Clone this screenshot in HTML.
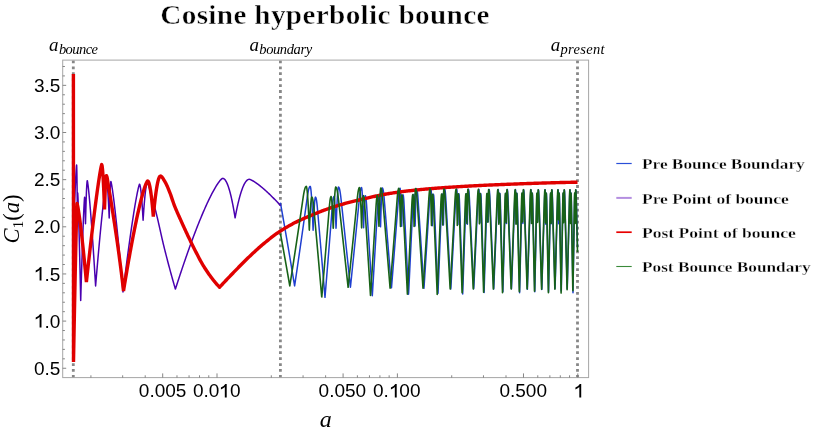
<!DOCTYPE html>
<html><head><meta charset="utf-8"><title>Cosine hyperbolic bounce</title>
<style>
html,body{margin:0;padding:0;background:#fff;}
body{width:817px;height:436px;overflow:hidden;position:relative;font-family:"Liberation Sans",sans-serif;}
svg{position:absolute;left:0;top:0;}
.t{position:absolute;white-space:nowrap;color:#000;line-height:1;filter:grayscale(1);}
.tick{font-family:"Liberation Sans",sans-serif;font-size:19px;}
.ser{font-family:"Liberation Serif",serif;}
</style></head><body>
<svg width="817" height="436" viewBox="0 0 817 436">
<rect x="0" y="0" width="817" height="436" fill="#fff"/>
<g stroke="#878787" stroke-width="2.8" stroke-dasharray="2.8 3.135" fill="none">
<path d="M73.3,377.8 V60.1"/><path d="M280.4,377.8 V60.1"/><path d="M577.5,377.8 V60.1"/>
</g>
<g fill="none" stroke-linejoin="round" stroke-linecap="butt">
<path d="M280.40,202.69 L280.60,203.81 L280.80,204.93 L281.00,206.05 L281.20,207.17 L281.40,208.30 L281.60,209.43 L281.80,210.56 L282.00,211.69 L282.20,212.82 L282.40,213.95 L282.60,215.08 L282.80,216.22 L283.00,217.36 L283.20,218.50 L283.40,219.64 L283.60,220.78 L283.80,221.92 L284.00,223.06 L284.20,224.21 L284.40,225.36 L284.60,226.51 L284.80,227.66 L285.00,228.81 L285.20,229.96 L285.40,231.12 L285.60,232.27 L285.80,233.43 L286.00,234.59 L286.20,235.75 L286.40,236.91 L286.60,238.08 L286.80,239.24 L287.00,240.41 L287.20,241.58 L287.40,242.75 L287.60,243.92 L287.80,245.09 L288.00,246.27 L288.20,247.44 L288.40,248.62 L288.60,249.80 L288.80,250.98 L289.00,252.16 L289.20,253.34 L289.30,253.93 L289.40,254.53 L289.50,255.12 L289.60,255.71 L289.70,256.31 L289.80,256.90 L289.90,257.50 L290.00,258.09 L290.10,258.69 L290.20,259.28 L290.30,259.88 L290.40,260.47 L290.50,261.07 L290.60,261.67 L290.70,262.26 L290.80,262.86 L290.90,263.46 L291.00,264.06 L291.10,264.66 L291.20,265.26 L291.30,265.86 L291.40,266.46 L291.50,267.06 L291.60,267.66 L291.70,268.26 L291.80,268.86 L291.90,269.46 L292.00,270.07 L292.10,270.67 L292.20,271.27 L292.30,271.88 L292.40,272.48 L292.50,273.09 L292.60,273.69 L292.70,274.30 L292.80,274.90 L292.90,275.51 L293.00,276.11 L293.10,276.72 L293.20,277.33 L293.30,277.93 L293.40,278.54 L293.50,279.15 L293.60,279.76 L293.70,280.37 L293.80,280.98 L293.90,281.59 L294.00,282.20 L294.10,282.81 L294.20,283.42 L294.30,284.03 L294.40,284.64 L294.50,285.26 L294.60,285.87 L294.80,284.65 L294.90,283.97 L295.00,283.30 L295.10,282.62 L295.20,281.95 L295.30,281.27 L295.40,280.60 L295.50,279.92 L295.60,279.24 L295.70,278.57 L295.80,277.89 L295.90,277.21 L296.00,276.53 L296.10,275.85 L296.20,275.17 L296.30,274.49 L296.40,273.81 L296.50,273.13 L296.60,272.45 L296.70,271.77 L296.80,271.09 L296.90,270.40 L297.00,269.72 L297.10,269.04 L297.20,268.35 L297.30,267.67 L297.40,266.98 L297.50,266.30 L297.60,265.61 L297.70,264.93 L297.80,264.24 L297.90,263.55 L298.00,262.87 L298.10,262.18 L298.20,261.49 L298.30,260.80 L298.40,260.11 L298.50,259.42 L298.60,258.73 L298.70,258.04 L298.80,257.35 L298.90,256.66 L299.00,255.97 L299.10,255.27 L299.20,254.58 L299.30,253.89 L299.40,253.19 L299.50,252.50 L299.60,251.80 L299.70,251.11 L299.80,250.41 L299.90,249.72 L300.00,249.02 L300.10,248.32 L300.20,247.63 L300.30,246.93 L300.40,246.23 L300.50,245.53 L300.60,244.83 L300.70,244.13 L300.80,243.43 L300.90,242.73 L301.00,242.03 L301.10,241.33 L301.20,240.63 L301.30,239.92 L301.40,239.22 L301.50,238.52 L301.60,237.81 L301.70,237.11 L301.80,236.41 L301.90,235.70 L302.00,235.00 L302.10,234.29 L302.20,233.58 L302.30,232.88 L302.40,232.17 L302.50,231.46 L302.60,230.75 L302.70,230.04 L302.80,229.33 L302.90,228.62 L303.00,227.91 L303.10,227.20 L303.20,226.49 L303.30,225.78 L303.40,225.07 L303.50,224.36 L303.60,223.64 L303.70,222.93 L303.80,222.22 L303.90,221.50 L304.00,220.79 L304.10,220.07 L304.20,219.36 L304.30,218.64 L304.40,217.92 L304.50,217.21 L304.60,216.49 L304.70,215.77 L304.80,215.05 L304.90,214.33 L305.00,213.61 L305.10,212.89 L305.20,212.17 L305.30,211.45 L305.40,210.73 L305.50,210.01 L305.60,209.29 L305.70,208.56 L305.80,207.84 L305.90,207.12 L306.00,206.39 L306.10,205.67 L306.20,204.94 L306.30,204.22 L306.40,203.49 L306.50,202.77 L306.60,202.04 L306.70,201.31 L306.80,200.58 L306.90,199.86 L307.00,199.13 L307.10,198.40 L307.20,197.67 L307.30,196.94 L307.40,196.24 L307.50,195.56 L307.60,194.91 L307.70,194.28 L307.80,193.67 L308.00,192.53 L308.20,191.49 L308.40,190.54 L308.60,189.68 L308.80,188.93 L309.00,188.27 L309.30,187.47 L309.60,186.89 L310.10,186.42 L310.20,186.41 L310.30,186.46 L310.60,187.49 L310.80,188.78 L310.90,189.59 L311.00,190.50 L311.10,191.51 L311.20,192.63 L311.30,193.83 L311.40,195.14 L311.50,196.53 L311.60,198.02 L311.70,199.60 L311.80,201.27 L311.90,203.02 L312.00,204.87 L312.10,206.80 L312.20,208.81 L312.30,210.92 L312.40,213.10 L312.50,215.37 L312.60,217.73 L312.70,220.16 L312.80,222.68 L312.90,225.28 L313.00,227.96 L313.10,230.20 L313.20,227.73 L313.30,225.35 L313.40,223.05 L313.50,220.83 L313.60,218.70 L313.70,216.67 L313.80,214.71 L313.90,212.85 L314.00,211.09 L314.10,209.41 L314.20,207.83 L314.30,206.34 L314.40,204.96 L314.50,203.67 L314.60,202.49 L314.70,201.41 L314.80,200.43 L314.90,199.57 L315.00,198.83 L315.10,198.20 L315.30,197.33 L315.40,197.12 L315.50,197.08 L315.90,197.64 L316.10,198.26 L316.30,199.12 L316.50,200.22 L316.60,200.86 L316.70,201.55 L316.80,202.31 L316.90,203.12 L317.00,204.00 L317.10,204.93 L317.20,205.93 L317.30,206.98 L317.40,208.09 L317.50,209.24 L317.60,210.39 L317.70,211.54 L317.80,212.69 L317.90,213.85 L318.00,215.00 L318.10,216.15 L318.20,217.31 L318.30,218.46 L318.40,219.62 L318.50,220.78 L318.60,221.93 L318.70,223.09 L318.80,224.25 L318.90,225.41 L319.00,226.57 L319.10,227.73 L319.20,228.89 L319.30,230.06 L319.40,231.22 L319.50,232.38 L319.60,233.55 L319.70,234.71 L319.80,235.88 L319.90,237.05 L320.00,238.21 L320.10,239.38 L320.20,240.55 L320.30,241.72 L320.40,242.89 L320.50,244.06 L320.60,245.24 L320.70,246.41 L320.80,247.58 L320.90,248.76 L321.00,249.93 L321.10,251.11 L321.20,252.29 L321.30,253.46 L321.40,254.64 L321.50,255.82 L321.60,257.00 L321.70,258.18 L321.80,259.36 L321.90,260.54 L322.00,261.73 L322.10,262.91 L322.20,264.09 L322.30,265.28 L322.40,266.47 L322.50,267.65 L322.60,268.84 L322.70,270.03 L322.80,271.22 L322.90,272.41 L323.00,273.60 L323.10,274.79 L323.20,275.98 L323.30,277.17 L323.40,278.36 L323.50,279.56 L323.60,280.75 L323.70,281.95 L323.80,283.15 L323.90,284.34 L324.00,285.54 L324.10,286.74 L324.20,287.94 L324.30,289.14 L324.40,290.34 L324.50,291.54 L324.60,292.74 L324.70,293.95 L324.80,295.15 L324.90,296.36 L325.00,297.33 L325.10,296.12 L325.20,294.91 L325.30,293.69 L325.40,292.48 L325.50,291.26 L325.60,290.05 L325.70,288.83 L325.80,287.61 L325.90,286.39 L326.00,285.17 L326.10,283.95 L326.20,282.73 L326.30,281.51 L326.40,280.29 L326.50,279.07 L326.60,277.84 L326.70,276.62 L326.80,275.39 L326.90,274.17 L327.00,272.94 L327.10,271.71 L327.20,270.48 L327.30,269.25 L327.40,268.02 L327.50,266.79 L327.60,265.56 L327.70,264.33 L327.80,263.09 L327.90,261.86 L328.00,260.62 L328.10,259.39 L328.20,258.15 L328.30,256.92 L328.40,255.68 L328.50,254.44 L328.60,253.20 L328.70,251.96 L328.80,250.72 L328.90,249.48 L329.00,248.23 L329.10,246.99 L329.20,245.74 L329.30,244.50 L329.40,243.25 L329.50,242.01 L329.60,240.76 L329.70,239.51 L329.80,238.26 L329.90,237.01 L330.00,235.76 L330.10,234.51 L330.20,233.26 L330.30,232.01 L330.40,230.75 L330.50,229.50 L330.60,228.24 L330.70,226.99 L330.80,225.73 L330.90,224.47 L331.00,223.21 L331.10,221.95 L331.20,220.69 L331.30,219.43 L331.40,218.17 L331.50,216.91 L331.60,215.64 L331.70,214.38 L331.80,213.12 L331.90,211.85 L332.00,210.58 L332.10,209.32 L332.20,208.05 L332.30,206.80 L332.40,205.62 L332.50,204.52 L332.60,203.48 L332.70,202.52 L332.80,201.63 L332.90,200.81 L333.00,200.06 L333.10,199.39 L333.20,198.78 L333.40,197.79 L333.60,197.09 L333.90,196.58 L334.00,196.57 L334.20,197.14 L334.40,198.42 L334.50,199.29 L334.60,200.31 L334.70,201.47 L334.80,202.76 L334.90,204.19 L335.00,205.75 L335.10,207.44 L335.20,209.26 L335.30,211.20 L335.40,213.27 L335.50,215.45 L335.60,217.76 L335.70,220.18 L335.80,222.72 L335.90,225.38 L336.00,228.15 L336.20,224.92 L336.30,221.99 L336.40,219.16 L336.50,216.43 L336.60,213.82 L336.70,211.31 L336.80,208.91 L336.90,206.62 L337.00,204.44 L337.10,202.38 L337.20,200.43 L337.30,198.60 L337.40,196.89 L337.50,195.31 L337.60,193.84 L337.70,192.51 L337.80,191.30 L337.90,190.23 L338.00,189.30 L338.10,188.51 L338.20,187.88 L338.40,187.12 L338.50,187.04 L339.00,187.55 L339.30,188.29 L339.50,188.97 L339.70,189.80 L339.90,190.77 L340.10,191.89 L340.20,192.51 L340.30,193.16 L340.40,193.85 L340.50,194.58 L340.60,195.35 L340.70,196.15 L340.80,196.99 L340.90,197.87 L341.00,198.78 L341.10,199.69 L341.20,200.61 L341.30,201.52 L341.40,202.43 L341.50,203.35 L341.60,204.26 L341.70,205.18 L341.80,206.10 L341.90,207.01 L342.00,207.93 L342.10,208.85 L342.20,209.77 L342.30,210.69 L342.40,211.61 L342.50,212.53 L342.60,213.45 L342.70,214.37 L342.80,215.29 L342.90,216.22 L343.00,217.14 L343.10,218.06 L343.20,218.99 L343.30,219.91 L343.40,220.84 L343.50,221.77 L343.60,222.69 L343.70,223.62 L343.80,224.55 L343.90,225.48 L344.00,226.41 L344.10,227.34 L344.20,228.27 L344.30,229.20 L344.40,230.13 L344.50,231.06 L344.60,232.00 L344.70,232.93 L344.80,233.87 L344.90,234.80 L345.00,235.74 L345.10,236.67 L345.20,237.61 L345.30,238.55 L345.40,239.48 L345.50,240.42 L345.60,241.36 L345.70,242.30 L345.80,243.24 L345.90,244.18 L346.00,245.13 L346.10,246.07 L346.20,247.01 L346.30,247.95 L346.40,248.90 L346.50,249.84 L346.60,250.79 L346.70,251.73 L346.80,252.68 L346.90,253.63 L347.00,254.57 L347.10,255.52 L347.20,256.47 L347.30,257.42 L347.40,258.37 L347.50,259.32 L347.60,260.27 L347.70,261.22 L347.80,262.18 L347.90,263.13 L348.00,264.08 L348.10,265.04 L348.20,265.99 L348.30,266.95 L348.40,267.91 L348.50,268.86 L348.60,269.82 L348.70,270.78 L348.80,271.74 L348.90,272.70 L349.00,273.66 L349.10,274.62 L349.20,275.58 L349.30,276.54 L349.40,277.50 L349.50,278.46 L349.60,279.43 L349.70,280.39 L349.80,281.36 L349.90,282.32 L350.00,283.29 L350.10,284.26 L350.20,285.22 L350.30,286.19 L350.40,287.16 L350.50,286.53 L350.60,285.57 L350.70,284.60 L350.80,283.64 L350.90,282.67 L351.00,281.70 L351.10,280.73 L351.20,279.76 L351.30,278.80 L351.40,277.83 L351.50,276.85 L351.60,275.88 L351.70,274.91 L351.80,273.94 L351.90,272.97 L352.00,271.99 L352.10,271.02 L352.20,270.04 L352.30,269.07 L352.40,268.09 L352.50,267.11 L352.60,266.14 L352.70,265.16 L352.80,264.18 L352.90,263.20 L353.00,262.22 L353.10,261.24 L353.20,260.26 L353.30,259.28 L353.40,258.29 L353.50,257.31 L353.60,256.33 L353.70,255.34 L353.80,254.36 L353.90,253.37 L354.00,252.38 L354.10,251.40 L354.20,250.41 L354.30,249.42 L354.40,248.43 L354.50,247.44 L354.60,246.45 L354.70,245.46 L354.80,244.47 L354.90,243.48 L355.00,242.48 L355.10,241.49 L355.20,240.50 L355.30,239.50 L355.40,238.51 L355.50,237.51 L355.60,236.51 L355.70,235.52 L355.80,234.52 L355.90,233.52 L356.00,232.52 L356.10,231.52 L356.20,230.52 L356.30,229.52 L356.40,228.52 L356.50,227.51 L356.60,226.51 L356.70,225.51 L356.80,224.50 L356.90,223.50 L357.00,222.49 L357.10,221.49 L357.20,220.48 L357.30,219.47 L357.40,218.46 L357.50,217.45 L357.60,216.44 L357.70,215.43 L357.80,214.42 L357.90,213.41 L358.00,212.40 L358.10,211.38 L358.20,210.37 L358.30,209.36 L358.40,208.34 L358.50,207.33 L358.60,206.31 L358.70,205.29 L358.80,204.28 L358.90,203.26 L359.00,202.24 L359.10,201.22 L359.20,200.20 L359.30,199.18 L359.40,198.16 L359.50,197.18 L359.60,196.25 L359.70,195.37 L359.80,194.53 L359.90,193.74 L360.00,192.99 L360.10,192.30 L360.20,191.65 L360.30,191.05 L360.50,189.98 L360.70,189.11 L360.90,188.43 L361.20,187.76 L361.50,187.53 L361.80,188.71 L361.90,189.54 L362.00,190.57 L362.10,191.78 L362.20,193.17 L362.30,194.73 L362.40,196.46 L362.50,198.36 L362.60,200.42 L362.70,202.63 L362.80,205.01 L362.90,207.53 L363.00,210.21 L363.10,213.04 L363.20,216.02 L363.30,219.14 L363.40,222.41 L363.50,225.82 L363.60,227.69 L363.70,224.39 L363.80,221.25 L363.90,218.26 L364.00,215.45 L364.10,212.79 L364.20,210.31 L364.30,208.00 L364.40,205.87 L364.50,203.92 L364.60,202.16 L364.70,200.58 L364.80,199.21 L364.90,198.04 L365.00,197.09 L365.10,196.36 L365.30,195.71 L365.40,195.77 L365.70,196.61 L365.90,197.72 L366.00,198.44 L366.10,199.28 L366.20,200.22 L366.30,201.27 L366.40,202.44 L366.50,203.71 L366.60,205.10 L366.70,206.60 L366.80,208.18 L366.90,209.75 L367.00,211.33 L367.10,212.91 L367.20,214.49 L367.30,216.07 L367.40,217.65 L367.50,219.23 L367.60,220.81 L367.70,222.39 L367.80,223.98 L367.90,225.56 L368.00,227.15 L368.10,228.74 L368.20,230.33 L368.30,231.92 L368.40,233.51 L368.50,235.10 L368.60,236.69 L368.70,238.29 L368.80,239.88 L368.90,241.48 L369.00,243.07 L369.10,244.67 L369.20,246.27 L369.30,247.87 L369.40,249.47 L369.50,251.07 L369.60,252.68 L369.70,254.28 L369.80,255.89 L369.90,257.49 L370.00,259.10 L370.10,260.71 L370.20,262.32 L370.30,263.93 L370.40,265.54 L370.50,267.15 L370.60,268.76 L370.70,270.38 L370.80,271.99 L370.90,273.61 L371.00,275.23 L371.10,276.84 L371.20,278.46 L371.30,280.08 L371.40,281.70 L371.50,283.33 L371.60,284.95 L371.70,286.58 L371.80,288.20 L371.90,289.83 L372.00,291.45 L372.10,293.08 L372.20,294.71 L372.30,295.75 L372.40,294.11 L372.50,292.47 L372.60,290.83 L372.70,289.19 L372.80,287.55 L372.90,285.91 L373.00,284.26 L373.10,282.62 L373.20,280.97 L373.30,279.33 L373.40,277.68 L373.50,276.03 L373.60,274.38 L373.70,272.73 L373.80,271.08 L373.90,269.43 L374.00,267.77 L374.10,266.12 L374.20,264.46 L374.30,262.80 L374.40,261.15 L374.50,259.49 L374.60,257.83 L374.70,256.16 L374.80,254.50 L374.90,252.84 L375.00,251.17 L375.10,249.51 L375.20,247.84 L375.30,246.17 L375.40,244.51 L375.50,242.84 L375.60,241.16 L375.70,239.49 L375.80,237.82 L375.90,236.15 L376.00,234.47 L376.10,232.79 L376.20,231.12 L376.30,229.44 L376.40,227.76 L376.50,226.08 L376.60,224.40 L376.70,222.72 L376.80,221.03 L376.90,219.35 L377.00,217.66 L377.10,215.97 L377.20,214.29 L377.30,212.60 L377.40,210.91 L377.50,209.22 L377.60,207.52 L377.70,205.84 L377.80,204.27 L377.90,202.82 L378.00,201.50 L378.10,200.31 L378.20,199.25 L378.30,198.31 L378.40,197.50 L378.50,196.82 L378.70,195.85 L378.90,195.40 L379.00,195.39 L379.20,196.38 L379.30,197.32 L379.40,198.53 L379.50,199.98 L379.60,201.68 L379.70,203.61 L379.80,205.77 L379.90,208.15 L380.00,210.74 L380.10,213.55 L380.20,216.57 L380.30,219.79 L380.40,223.22 L380.50,226.85 L380.60,225.14 L380.70,221.43 L380.80,217.89 L380.90,214.53 L381.00,211.34 L381.10,208.34 L381.20,205.52 L381.30,202.88 L381.40,200.44 L381.50,198.19 L381.60,196.15 L381.70,194.30 L381.80,192.67 L381.90,191.26 L382.00,190.07 L382.10,189.12 L382.20,188.44 L382.30,188.03 L382.40,187.96 L382.80,188.59 L383.00,189.29 L383.20,190.24 L383.40,191.45 L383.50,192.15 L383.60,192.92 L383.70,193.75 L383.80,194.64 L383.90,195.60 L384.00,196.63 L384.10,197.72 L384.20,198.88 L384.30,200.08 L384.40,201.28 L384.50,202.49 L384.60,203.69 L384.70,204.90 L384.80,206.11 L384.90,207.32 L385.00,208.52 L385.10,209.73 L385.20,210.94 L385.30,212.15 L385.40,213.37 L385.50,214.58 L385.60,215.79 L385.70,217.01 L385.80,218.22 L385.90,219.44 L386.00,220.65 L386.10,221.87 L386.20,223.09 L386.30,224.31 L386.40,225.53 L386.50,226.75 L386.60,227.97 L386.70,229.19 L386.80,230.41 L386.90,231.63 L387.00,232.86 L387.10,234.08 L387.20,235.31 L387.30,236.54 L387.40,237.76 L387.50,238.99 L387.60,240.22 L387.70,241.45 L387.80,242.68 L387.90,243.91 L388.00,245.14 L388.10,246.38 L388.20,247.61 L388.30,248.84 L388.40,250.08 L388.50,251.32 L388.60,252.55 L388.70,253.79 L388.80,255.03 L388.90,256.27 L389.00,257.51 L389.10,258.75 L389.20,259.99 L389.30,261.23 L389.40,262.48 L389.50,263.72 L389.60,264.97 L389.70,266.21 L389.80,267.46 L389.90,268.70 L390.00,269.95 L390.10,271.20 L390.20,272.45 L390.30,273.70 L390.40,274.95 L390.50,276.20 L390.60,277.46 L390.70,278.71 L390.80,279.97 L390.90,281.22 L391.00,282.48 L391.10,283.73 L391.20,284.99 L391.30,286.25 L391.40,287.51 L391.50,287.77 L391.60,286.51 L391.70,285.25 L391.80,283.99 L391.90,282.74 L392.00,281.48 L392.10,280.22 L392.20,278.95 L392.30,277.69 L392.40,276.43 L392.50,275.16 L392.60,273.90 L392.70,272.63 L392.80,271.37 L392.90,270.10 L393.00,268.83 L393.10,267.56 L393.20,266.29 L393.30,265.02 L393.40,263.75 L393.50,262.48 L393.60,261.21 L393.70,259.93 L393.80,258.66 L393.90,257.38 L394.00,256.11 L394.10,254.83 L394.20,253.55 L394.30,252.27 L394.40,250.99 L394.50,249.71 L394.60,248.43 L394.70,247.15 L394.80,245.87 L394.90,244.58 L395.00,243.30 L395.10,242.01 L395.20,240.73 L395.30,239.44 L395.40,238.15 L395.50,236.86 L395.60,235.57 L395.70,234.28 L395.80,232.99 L395.90,231.70 L396.00,230.41 L396.10,229.11 L396.20,227.82 L396.30,226.52 L396.40,225.23 L396.50,223.93 L396.60,222.63 L396.70,221.33 L396.80,220.03 L396.90,218.73 L397.00,217.43 L397.10,216.13 L397.20,214.83 L397.30,213.52 L397.40,212.22 L397.50,210.91 L397.60,209.61 L397.70,208.30 L397.80,206.99 L397.90,205.68 L398.00,204.37 L398.10,203.06 L398.20,201.75 L398.30,200.44 L398.40,199.13 L398.50,197.87 L398.60,196.68 L398.70,195.58 L398.80,194.55 L398.90,193.60 L399.00,192.73 L399.10,191.93 L399.20,191.22 L399.30,190.58 L399.50,189.53 L399.70,188.81 L400.00,188.31 L400.10,188.33 L400.30,189.52 L400.40,190.60 L400.50,191.98 L400.60,193.64 L400.70,195.56 L400.80,197.75 L400.90,200.18 L401.00,202.87 L401.10,205.79 L401.20,208.95 L401.30,212.35 L401.40,215.97 L401.50,219.83 L401.60,223.90 L401.70,226.25 L401.80,222.12 L401.90,218.25 L402.00,214.64 L402.10,211.30 L402.20,208.24 L402.30,205.45 L402.40,202.96 L402.50,200.76 L402.60,198.88 L402.70,197.32 L402.80,196.10 L402.90,195.25 L403.00,194.82 L403.10,194.85 L403.30,195.47 L403.50,196.80 L403.60,197.73 L403.70,198.84 L403.80,200.13 L403.90,201.61 L404.00,203.26 L404.10,205.09 L404.20,207.07 L404.30,209.07 L404.40,211.07 L404.50,213.08 L404.60,215.08 L404.70,217.09 L404.80,219.09 L404.90,221.10 L405.00,223.11 L405.10,225.12 L405.20,227.13 L405.30,229.15 L405.40,231.16 L405.50,233.18 L405.60,235.20 L405.70,237.21 L405.80,239.23 L405.90,241.26 L406.00,243.28 L406.10,245.30 L406.20,247.33 L406.30,249.35 L406.40,251.38 L406.50,253.41 L406.60,255.44 L406.70,257.47 L406.80,259.51 L406.90,261.54 L407.00,263.57 L407.10,265.61 L407.20,267.65 L407.30,269.69 L407.40,271.73 L407.50,273.77 L407.60,275.81 L407.70,277.86 L407.80,279.91 L407.90,281.95 L408.00,284.00 L408.10,286.05 L408.20,288.10 L408.30,290.15 L408.40,292.21 L408.50,294.26 L408.70,291.83 L408.80,289.77 L408.90,287.70 L409.00,285.63 L409.10,283.57 L409.20,281.50 L409.30,279.43 L409.40,277.36 L409.50,275.28 L409.60,273.21 L409.70,271.13 L409.80,269.06 L409.90,266.98 L410.00,264.90 L410.10,262.82 L410.20,260.74 L410.30,258.65 L410.40,256.57 L410.50,254.48 L410.60,252.40 L410.70,250.31 L410.80,248.22 L410.90,246.13 L411.00,244.03 L411.10,241.94 L411.20,239.84 L411.30,237.75 L411.40,235.65 L411.50,233.55 L411.60,231.45 L411.70,229.35 L411.80,227.24 L411.90,225.14 L412.00,223.03 L412.10,220.93 L412.20,218.82 L412.30,216.71 L412.40,214.60 L412.50,212.48 L412.60,210.37 L412.70,208.26 L412.80,206.14 L412.90,204.09 L413.00,202.23 L413.10,200.58 L413.20,199.12 L413.30,197.87 L413.40,196.81 L413.50,195.96 L413.60,195.31 L413.80,194.62 L413.90,194.61 L414.10,196.10 L414.20,197.50 L414.30,199.29 L414.40,201.46 L414.50,203.98 L414.60,206.85 L414.70,210.05 L414.80,213.58 L414.90,217.43 L415.00,221.59 L415.10,226.06 L415.20,222.96 L415.30,218.63 L415.40,214.56 L415.50,210.75 L415.60,207.20 L415.70,203.94 L415.80,200.95 L415.90,198.26 L416.00,195.86 L416.10,193.77 L416.20,191.99 L416.30,190.56 L416.40,189.48 L416.50,188.79 L416.60,188.58 L417.00,189.44 L417.20,190.46 L417.30,191.12 L417.40,191.88 L417.50,192.74 L417.60,193.70 L417.70,194.76 L417.80,195.92 L417.90,197.18 L418.00,198.54 L418.10,200.00 L418.20,201.50 L418.30,202.99 L418.40,204.49 L418.50,205.99 L418.60,207.49 L418.70,208.98 L418.80,210.49 L418.90,211.99 L419.00,213.49 L419.10,214.99 L419.20,216.50 L419.30,218.00 L419.40,219.51 L419.50,221.02 L419.60,222.52 L419.70,224.03 L419.80,225.54 L419.90,227.05 L420.00,228.57 L420.10,230.08 L420.20,231.59 L420.30,233.11 L420.40,234.62 L420.50,236.14 L420.60,237.66 L420.70,239.18 L420.80,240.70 L420.90,242.22 L421.00,243.74 L421.10,245.26 L421.20,246.79 L421.30,248.31 L421.40,249.84 L421.50,251.37 L421.60,252.89 L421.70,254.42 L421.80,255.95 L421.90,257.48 L422.00,259.01 L422.10,260.55 L422.20,262.08 L422.30,263.61 L422.40,265.15 L422.50,266.69 L422.60,268.22 L422.70,269.76 L422.80,271.30 L422.90,272.84 L423.00,274.38 L423.10,275.93 L423.20,277.47 L423.30,279.02 L423.40,280.56 L423.50,282.11 L423.60,283.65 L423.70,285.20 L423.80,286.75 L423.90,288.30 L424.10,286.39 L424.20,284.84 L424.30,283.29 L424.40,281.74 L424.50,280.19 L424.60,278.63 L424.70,277.08 L424.80,275.52 L424.90,273.96 L425.00,272.41 L425.10,270.85 L425.20,269.29 L425.30,267.73 L425.40,266.16 L425.50,264.60 L425.60,263.04 L425.70,261.47 L425.80,259.91 L425.90,258.34 L426.00,256.77 L426.10,255.20 L426.20,253.63 L426.30,252.06 L426.40,250.49 L426.50,248.92 L426.60,247.34 L426.70,245.77 L426.80,244.19 L426.90,242.61 L427.00,241.03 L427.10,239.45 L427.20,237.87 L427.30,236.29 L427.40,234.71 L427.50,233.13 L427.60,231.54 L427.70,229.96 L427.80,228.37 L427.90,226.78 L428.00,225.20 L428.10,223.61 L428.20,222.02 L428.30,220.42 L428.40,218.83 L428.50,217.24 L428.60,215.64 L428.70,214.05 L428.80,212.45 L428.90,210.85 L429.00,209.26 L429.10,207.66 L429.20,206.05 L429.30,204.45 L429.40,202.85 L429.50,201.25 L429.60,199.64 L429.70,198.11 L429.80,196.70 L429.90,195.40 L430.00,194.22 L430.10,193.16 L430.20,192.20 L430.30,191.37 L430.40,190.65 L430.50,190.05 L430.70,189.20 L430.90,188.82 L431.00,188.86 L431.20,190.48 L431.30,191.97 L431.40,193.87 L431.50,196.15 L431.60,198.80 L431.70,201.80 L431.80,205.16 L431.90,208.85 L432.00,212.88 L432.10,217.23 L432.20,221.90 L432.30,225.78 L432.40,220.80 L432.50,216.21 L432.60,212.00 L432.70,208.19 L432.80,204.79 L432.90,201.82 L433.00,199.29 L433.10,197.22 L433.20,195.64 L433.30,194.60 L433.40,194.19 L433.70,195.38 L433.80,196.30 L433.90,197.49 L434.00,198.93 L434.10,200.64 L434.20,202.62 L434.30,204.86 L434.40,207.28 L434.50,209.71 L434.60,212.13 L434.70,214.56 L434.80,216.99 L434.90,219.43 L435.00,221.86 L435.10,224.30 L435.20,226.74 L435.30,229.17 L435.40,231.61 L435.50,234.06 L435.60,236.50 L435.70,238.95 L435.80,241.39 L435.90,243.84 L436.00,246.29 L436.10,248.74 L436.20,251.19 L436.30,253.65 L436.40,256.10 L436.50,258.56 L436.60,261.02 L436.70,263.48 L436.80,265.94 L436.90,268.41 L437.00,270.87 L437.10,273.34 L437.20,275.81 L437.30,278.28 L437.40,280.75 L437.50,283.23 L437.60,285.70 L437.70,288.18 L437.80,290.65 L437.90,293.13 L438.00,293.34 L438.10,290.85 L438.20,288.36 L438.30,285.87 L438.40,283.38 L438.50,280.89 L438.60,278.39 L438.70,275.90 L438.80,273.40 L438.90,270.90 L439.00,268.40 L439.10,265.90 L439.20,263.39 L439.30,260.89 L439.40,258.38 L439.50,255.87 L439.60,253.36 L439.70,250.85 L439.80,248.33 L439.90,245.82 L440.00,243.30 L440.10,240.78 L440.20,238.26 L440.30,235.74 L440.40,233.22 L440.50,230.69 L440.60,228.17 L440.70,225.64 L440.80,223.11 L440.90,220.58 L441.00,218.05 L441.10,215.51 L441.20,212.98 L441.30,210.44 L441.40,207.90 L441.50,205.36 L441.60,202.94 L441.70,200.81 L441.80,198.98 L441.90,197.43 L442.00,196.17 L442.10,195.20 L442.20,194.52 L442.30,194.13 L442.40,194.05 L442.50,194.67 L442.60,195.95 L442.70,197.82 L442.80,200.23 L442.90,203.16 L443.00,206.58 L443.10,210.48 L443.20,214.84 L443.30,219.65 L443.40,224.91 L443.50,221.88 L443.60,216.91 L443.70,212.30 L443.80,208.06 L443.90,204.20 L444.00,200.73 L444.10,197.67 L444.20,195.02 L444.30,192.81 L444.40,191.06 L444.50,189.80 L444.60,189.09 L444.70,189.01 L445.00,189.88 L445.20,191.16 L445.30,192.02 L445.40,193.01 L445.50,194.16 L445.60,195.44 L445.70,196.87 L445.80,198.44 L445.90,200.15 L446.00,201.94 L446.10,203.72 L446.20,205.51 L446.30,207.30 L446.40,209.09 L446.50,210.88 L446.60,212.67 L446.70,214.47 L446.80,216.26 L446.90,218.06 L447.00,219.86 L447.10,221.66 L447.20,223.46 L447.30,225.26 L447.40,227.06 L447.50,228.86 L447.60,230.67 L447.70,232.47 L447.80,234.28 L447.90,236.09 L448.00,237.89 L448.10,239.70 L448.20,241.52 L448.30,243.33 L448.40,245.14 L448.50,246.96 L448.60,248.77 L448.70,250.59 L448.80,252.41 L448.90,254.23 L449.00,256.05 L449.10,257.87 L449.20,259.69 L449.30,261.52 L449.40,263.34 L449.50,265.17 L449.60,267.00 L449.70,268.82 L449.80,270.65 L449.90,272.49 L450.00,274.32 L450.10,276.15 L450.20,277.99 L450.30,279.82 L450.40,281.66 L450.50,283.50 L450.60,285.34 L450.70,287.18 L450.80,289.02 L450.90,287.78 L451.00,285.94 L451.10,284.09 L451.20,282.25 L451.30,280.40 L451.40,278.56 L451.50,276.71 L451.60,274.86 L451.70,273.01 L451.80,271.16 L451.90,269.31 L452.00,267.46 L452.10,265.60 L452.20,263.75 L452.30,261.89 L452.40,260.03 L452.50,258.17 L452.60,256.31 L452.70,254.45 L452.80,252.59 L452.90,250.72 L453.00,248.86 L453.10,246.99 L453.20,245.13 L453.30,243.26 L453.40,241.39 L453.50,239.52 L453.60,237.64 L453.70,235.77 L453.80,233.89 L453.90,232.02 L454.00,230.14 L454.10,228.26 L454.20,226.38 L454.30,224.50 L454.40,222.62 L454.50,220.74 L454.60,218.85 L454.70,216.97 L454.80,215.08 L454.90,213.19 L455.00,211.30 L455.10,209.41 L455.20,207.52 L455.30,205.63 L455.40,203.73 L455.50,201.84 L455.60,199.94 L455.70,198.15 L455.80,196.53 L455.90,195.06 L456.00,193.75 L456.10,192.61 L456.20,191.63 L456.30,190.81 L456.40,190.15 L456.60,189.33 L456.70,189.16 L456.80,189.26 L456.90,190.08 L457.00,191.53 L457.10,193.55 L457.20,196.09 L457.30,199.13 L457.40,202.66 L457.50,206.65 L457.60,211.10 L457.70,216.00 L457.80,221.33 L457.90,224.40 L458.00,218.68 L458.10,213.49 L458.20,208.84 L458.30,204.75 L458.40,201.25 L458.50,198.35 L458.60,196.10 L458.70,194.55 L458.80,193.81 L458.90,193.90 L459.10,195.20 L459.20,196.40 L459.30,197.96 L459.40,199.89 L459.50,202.18 L459.60,204.83 L459.70,207.68 L459.80,210.54 L459.90,213.39 L460.00,216.25 L460.10,219.10 L460.20,221.96 L460.30,224.83 L460.40,227.69 L460.50,230.55 L460.60,233.42 L460.70,236.29 L460.80,239.16 L460.90,242.03 L461.00,244.91 L461.10,247.78 L461.20,250.66 L461.30,253.54 L461.40,256.42 L461.50,259.30 L461.60,262.19 L461.70,265.08 L461.80,267.97 L461.90,270.86 L462.00,273.75 L462.10,276.64 L462.20,279.54 L462.30,282.44 L462.40,285.34 L462.50,288.24 L462.60,291.14 L462.70,294.05 L462.80,291.15 L462.90,288.24 L463.00,285.32 L463.10,282.41 L463.20,279.49 L463.30,276.57 L463.40,273.65 L463.50,270.73 L463.60,267.80 L463.70,264.87 L463.80,261.94 L463.90,259.01 L464.00,256.08 L464.10,253.15 L464.20,250.21 L464.30,247.27 L464.40,244.33 L464.50,241.39 L464.60,238.45 L464.70,235.50 L464.80,232.55 L464.90,229.60 L465.00,226.65 L465.10,223.70 L465.20,220.74 L465.30,217.79 L465.40,214.83 L465.50,211.87 L465.60,208.90 L465.70,205.94 L465.80,203.05 L465.90,200.53 L466.00,198.40 L466.10,196.66 L466.20,195.32 L466.30,194.38 L466.40,193.83 L466.50,193.69 L466.60,194.44 L466.70,196.08 L466.80,198.49 L466.90,201.62 L467.00,205.43 L467.10,209.89 L467.20,214.98 L467.30,220.68 L467.40,224.26 L467.50,218.39 L467.60,213.01 L467.70,208.12 L467.80,203.74 L467.90,199.87 L468.00,196.55 L468.10,193.79 L468.20,191.63 L468.30,190.11 L468.40,189.33 L468.50,189.31 L468.70,189.96 L468.80,190.58 L468.90,191.38 L469.00,192.38 L469.10,193.57 L469.20,194.95 L469.30,196.53 L469.40,198.30 L469.50,200.26 L469.60,202.34 L469.70,204.42 L469.80,206.50 L469.90,208.58 L470.00,210.66 L470.10,212.74 L470.20,214.83 L470.30,216.92 L470.40,219.00 L470.50,221.09 L470.60,223.18 L470.70,225.28 L470.80,227.37 L470.90,229.46 L471.00,231.56 L471.10,233.66 L471.20,235.75 L471.30,237.85 L471.40,239.96 L471.50,242.06 L471.60,244.16 L471.70,246.27 L471.80,248.37 L471.90,250.48 L472.00,252.59 L472.10,254.70 L472.20,256.81 L472.30,258.93 L472.40,261.04 L472.50,263.16 L472.60,265.27 L472.70,267.39 L472.80,269.51 L472.90,271.63 L473.00,273.76 L473.10,275.88 L473.20,278.01 L473.30,280.13 L473.40,282.26 L473.50,284.39 L473.60,286.52 L473.70,288.66 L473.90,286.28 L474.00,284.15 L474.10,282.01 L474.20,279.87 L474.30,277.74 L474.40,275.60 L474.50,273.45 L474.60,271.31 L474.70,269.17 L474.80,267.02 L474.90,264.88 L475.00,262.73 L475.10,260.58 L475.20,258.43 L475.30,256.27 L475.40,254.12 L475.50,251.97 L475.60,249.81 L475.70,247.65 L475.80,245.49 L475.90,243.33 L476.00,241.17 L476.10,239.01 L476.20,236.84 L476.30,234.68 L476.40,232.51 L476.50,230.34 L476.60,228.17 L476.70,226.00 L476.80,223.82 L476.90,221.65 L477.00,219.47 L477.10,217.30 L477.20,215.12 L477.30,212.94 L477.40,210.76 L477.50,208.57 L477.60,206.39 L477.70,204.20 L477.80,202.02 L477.90,199.84 L478.00,197.82 L478.10,196.02 L478.20,194.43 L478.30,193.06 L478.40,191.90 L478.50,190.96 L478.60,190.24 L478.80,189.44 L478.90,189.39 L479.00,190.14 L479.10,191.74 L479.20,194.07 L479.30,197.09 L479.40,200.75 L479.50,205.04 L479.60,209.92 L479.70,215.38 L479.80,221.41 L479.90,222.69 L480.00,216.31 L480.10,210.63 L480.20,205.69 L480.30,201.50 L480.40,198.12 L480.50,195.58 L480.60,193.98 L480.70,193.51 L480.90,194.67 L481.00,195.96 L481.10,197.74 L481.20,199.99 L481.30,202.73 L481.40,205.92 L481.50,209.19 L481.60,212.47 L481.70,215.75 L481.80,219.03 L481.90,222.32 L482.00,225.61 L482.10,228.90 L482.20,232.19 L482.30,235.48 L482.40,238.78 L482.50,242.07 L482.60,245.37 L482.70,248.67 L482.80,251.98 L482.90,255.28 L483.00,258.59 L483.10,261.90 L483.20,265.22 L483.30,268.53 L483.40,271.85 L483.50,275.17 L483.60,278.49 L483.70,281.81 L483.80,285.13 L483.90,288.46 L484.00,291.79 L484.10,292.42 L484.20,289.09 L484.30,285.75 L484.40,282.41 L484.50,279.07 L484.60,275.72 L484.70,272.37 L484.80,269.03 L484.90,265.67 L485.00,262.32 L485.10,258.97 L485.20,255.61 L485.30,252.25 L485.40,248.89 L485.50,245.53 L485.60,242.16 L485.70,238.79 L485.80,235.42 L485.90,232.05 L486.00,228.68 L486.10,225.30 L486.20,221.92 L486.30,218.54 L486.40,215.16 L486.50,211.77 L486.60,208.38 L486.70,204.99 L486.80,201.80 L486.90,199.12 L487.00,196.95 L487.10,195.30 L487.20,194.17 L487.30,193.55 L487.40,193.53 L487.50,194.72 L487.60,197.00 L487.70,200.24 L487.80,204.38 L487.90,209.37 L488.00,215.18 L488.10,221.78 L488.20,221.71 L488.30,215.35 L488.40,209.62 L488.50,204.53 L488.60,200.11 L488.70,196.38 L488.80,193.38 L488.90,191.15 L489.00,189.79 L489.10,189.46 L489.30,190.11 L489.40,190.81 L489.50,191.76 L489.60,192.96 L489.70,194.41 L489.80,196.12 L489.90,198.07 L490.00,200.28 L490.10,202.64 L490.20,205.01 L490.30,207.38 L490.40,209.76 L490.50,212.13 L490.60,214.51 L490.70,216.88 L490.80,219.26 L490.90,221.64 L491.00,224.03 L491.10,226.41 L491.20,228.79 L491.30,231.18 L491.40,233.57 L491.50,235.96 L491.60,238.35 L491.70,240.74 L491.80,243.14 L491.90,245.53 L492.00,247.93 L492.10,250.33 L492.20,252.73 L492.30,255.13 L492.40,257.53 L492.50,259.94 L492.60,262.34 L492.70,264.75 L492.80,267.16 L492.90,269.57 L493.00,271.99 L493.10,274.40 L493.20,276.82 L493.30,279.23 L493.40,281.65 L493.50,284.07 L493.60,286.49 L493.70,288.92 L493.80,288.24 L493.90,285.81 L494.00,283.39 L494.10,280.96 L494.20,278.53 L494.30,276.10 L494.40,273.67 L494.50,271.23 L494.60,268.80 L494.70,266.36 L494.80,263.92 L494.90,261.48 L495.00,259.04 L495.10,256.59 L495.20,254.15 L495.30,251.70 L495.40,249.25 L495.50,246.80 L495.60,244.35 L495.70,241.90 L495.80,239.44 L495.90,236.99 L496.00,234.53 L496.10,232.07 L496.20,229.61 L496.30,227.15 L496.40,224.68 L496.50,222.22 L496.60,219.75 L496.70,217.28 L496.80,214.81 L496.90,212.34 L497.00,209.86 L497.10,207.39 L497.20,204.91 L497.30,202.43 L497.40,199.96 L497.50,197.70 L497.60,195.71 L497.70,194.00 L497.80,192.56 L497.90,191.40 L498.00,190.51 L498.10,189.91 L498.20,189.58 L498.30,189.62 L498.40,190.73 L498.50,192.86 L498.60,195.89 L498.70,199.75 L498.80,204.40 L498.90,209.81 L499.00,215.96 L499.10,222.83 L499.20,219.87 L499.30,213.03 L499.40,207.11 L499.50,202.14 L499.60,198.18 L499.70,195.30 L499.80,193.62 L499.90,193.38 L500.10,195.16 L500.20,196.96 L500.30,199.38 L500.40,202.42 L500.50,206.01 L500.60,209.72 L500.70,213.42 L500.80,217.13 L500.90,220.84 L501.00,224.55 L501.10,228.26 L501.20,231.98 L501.30,235.70 L501.40,239.42 L501.50,243.14 L501.60,246.87 L501.70,250.60 L501.80,254.33 L501.90,258.06 L502.00,261.80 L502.10,265.53 L502.20,269.27 L502.30,273.02 L502.40,276.76 L502.50,280.51 L502.60,284.26 L502.70,288.01 L502.80,291.76 L502.90,291.64 L503.00,287.88 L503.10,284.12 L503.20,280.35 L503.30,276.58 L503.40,272.81 L503.50,269.04 L503.60,265.27 L503.70,261.49 L503.80,257.71 L503.90,253.92 L504.00,250.14 L504.10,246.35 L504.20,242.56 L504.30,238.77 L504.40,234.97 L504.50,231.18 L504.60,227.38 L504.70,223.58 L504.80,219.77 L504.90,215.96 L505.00,212.16 L505.10,208.34 L505.20,204.53 L505.30,201.02 L505.40,198.16 L505.50,195.96 L505.60,194.41 L505.70,193.52 L505.80,193.30 L505.90,194.50 L506.00,197.09 L506.10,200.88 L506.20,205.80 L506.30,211.77 L506.40,218.76 L506.50,223.44 L506.60,216.21 L506.70,209.76 L506.80,204.11 L506.90,199.30 L507.00,195.36 L507.10,192.36 L507.20,190.37 L507.30,189.58 L507.50,190.21 L507.60,191.00 L507.70,192.11 L507.80,193.53 L507.90,195.27 L508.00,197.32 L508.10,199.69 L508.20,202.33 L508.30,204.99 L508.40,207.65 L508.50,210.31 L508.60,212.98 L508.70,215.65 L508.80,218.32 L508.90,220.99 L509.00,223.66 L509.10,226.34 L509.20,229.01 L509.30,231.69 L509.40,234.37 L509.50,237.05 L509.60,239.73 L509.70,242.42 L509.80,245.10 L509.90,247.79 L510.00,250.48 L510.10,253.17 L510.20,255.87 L510.30,258.56 L510.40,261.26 L510.50,263.96 L510.60,266.66 L510.70,269.36 L510.80,272.06 L510.90,274.77 L511.00,277.48 L511.10,280.18 L511.20,282.89 L511.30,285.61 L511.40,288.32 L511.50,288.80 L511.60,286.08 L511.70,283.36 L511.80,280.64 L511.90,277.92 L512.00,275.20 L512.10,272.48 L512.20,269.75 L512.30,267.02 L512.40,264.29 L512.50,261.56 L512.60,258.82 L512.70,256.09 L512.80,253.35 L512.90,250.61 L513.00,247.87 L513.10,245.13 L513.20,242.38 L513.30,239.64 L513.40,236.89 L513.50,234.14 L513.60,231.39 L513.70,228.64 L513.80,225.88 L513.90,223.12 L514.00,220.37 L514.10,217.61 L514.20,214.84 L514.30,212.08 L514.40,209.31 L514.50,206.55 L514.60,203.78 L514.70,201.01 L514.80,198.38 L514.90,196.09 L515.00,194.15 L515.10,192.55 L515.20,191.30 L515.30,190.39 L515.50,189.62 L515.60,190.34 L515.70,192.41 L515.80,195.61 L515.90,199.85 L516.00,205.07 L516.10,211.22 L516.20,218.28 L516.30,223.57 L516.40,215.50 L516.50,208.55 L516.60,202.77 L516.70,198.23 L516.80,195.03 L516.90,193.34 L517.00,193.37 L517.10,194.25 L517.20,195.90 L517.30,198.32 L517.40,201.49 L517.50,205.41 L517.60,209.53 L517.70,213.66 L517.80,217.80 L517.90,221.93 L518.00,226.07 L518.10,230.21 L518.20,234.35 L518.30,238.50 L518.40,242.65 L518.50,246.80 L518.60,250.95 L518.70,255.11 L518.80,259.27 L518.90,263.43 L519.00,267.59 L519.10,271.76 L519.20,275.93 L519.30,280.10 L519.40,284.28 L519.50,288.45 L519.60,292.63 L519.70,290.09 L519.80,285.91 L519.90,281.72 L520.00,277.52 L520.10,273.33 L520.20,269.13 L520.30,264.93 L520.40,260.73 L520.50,256.52 L520.60,252.32 L520.70,248.10 L520.80,243.89 L520.90,239.67 L521.00,235.46 L521.10,231.23 L521.20,227.01 L521.30,222.78 L521.40,218.55 L521.50,214.32 L521.60,210.08 L521.70,205.85 L521.80,201.77 L521.90,198.44 L522.00,195.93 L522.10,194.22 L522.20,193.32 L522.30,193.38 L522.40,195.28 L522.50,198.78 L522.60,203.71 L522.70,209.97 L522.80,217.50 L522.90,223.61 L523.00,215.65 L523.10,208.64 L523.20,202.62 L523.30,197.64 L523.40,193.76 L523.50,191.07 L523.60,189.73 L523.70,189.77 L523.90,191.14 L524.00,192.41 L524.10,194.07 L524.20,196.11 L524.30,198.55 L524.40,201.37 L524.50,204.32 L524.60,207.28 L524.70,210.23 L524.80,213.19 L524.90,216.15 L525.00,219.11 L525.10,222.07 L525.20,225.04 L525.30,228.00 L525.40,230.97 L525.50,233.94 L525.60,236.91 L525.70,239.89 L525.80,242.86 L525.90,245.84 L526.00,248.82 L526.10,251.80 L526.20,254.78 L526.30,257.77 L526.40,260.76 L526.50,263.75 L526.60,266.74 L526.70,269.73 L526.80,272.73 L526.90,275.72 L527.00,278.72 L527.10,281.72 L527.20,284.73 L527.30,287.73 L527.40,289.27 L527.50,286.26 L527.60,283.25 L527.70,280.24 L527.80,277.23 L527.90,274.21 L528.00,271.19 L528.10,268.18 L528.20,265.15 L528.30,262.13 L528.40,259.11 L528.50,256.08 L528.60,253.05 L528.70,250.02 L528.80,246.99 L528.90,243.95 L529.00,240.92 L529.10,237.88 L529.20,234.84 L529.30,231.79 L529.40,228.75 L529.50,225.70 L529.60,222.65 L529.70,219.60 L529.80,216.55 L529.90,213.50 L530.00,210.44 L530.10,207.38 L530.20,204.32 L530.30,201.26 L530.40,198.35 L530.50,195.86 L530.60,193.79 L530.70,192.14 L530.80,190.91 L530.90,190.10 L531.00,189.72 L531.20,192.14 L531.30,195.57 L531.40,200.26 L531.50,206.14 L531.60,213.14 L531.70,221.22 L531.80,219.28 L531.90,211.06 L532.00,204.24 L532.10,198.90 L532.20,195.16 L532.30,193.25 L532.40,193.35 L532.50,194.48 L532.60,196.53 L532.70,199.51 L532.80,203.42 L532.90,207.96 L533.00,212.51 L533.10,217.07 L533.20,221.63 L533.30,226.19 L533.40,230.76 L533.50,235.33 L533.60,239.90 L533.70,244.47 L533.80,249.05 L533.90,253.63 L534.00,258.22 L534.10,262.80 L534.20,267.39 L534.30,271.98 L534.40,276.58 L534.50,281.18 L534.60,285.78 L534.70,290.38 L534.80,291.75 L534.90,287.14 L535.00,282.53 L535.10,277.91 L535.20,273.29 L535.30,268.67 L535.40,264.04 L535.50,259.41 L535.60,254.78 L535.70,250.15 L535.80,245.51 L535.90,240.87 L536.00,236.23 L536.10,231.58 L536.20,226.93 L536.30,222.28 L536.40,217.62 L536.50,212.97 L536.60,208.30 L536.70,203.65 L536.80,199.59 L536.90,196.52 L537.00,194.42 L537.10,193.29 L537.20,193.31 L537.30,195.50 L537.40,199.60 L537.50,205.39 L537.60,212.77 L537.70,221.65 L537.80,218.63 L537.90,210.59 L538.00,203.73 L538.10,198.11 L538.20,193.80 L538.30,190.92 L538.40,189.72 L538.60,190.62 L538.70,191.78 L538.80,193.40 L538.90,195.50 L539.00,198.07 L539.10,201.11 L539.20,204.35 L539.30,207.59 L539.40,210.84 L539.50,214.09 L539.60,217.34 L539.70,220.59 L539.80,223.84 L539.90,227.10 L540.00,230.36 L540.10,233.62 L540.20,236.88 L540.30,240.15 L540.40,243.42 L540.50,246.69 L540.60,249.96 L540.70,253.23 L540.80,256.51 L540.90,259.78 L541.00,263.06 L541.10,266.35 L541.20,269.63 L541.30,272.92 L541.40,276.21 L541.50,279.50 L541.60,282.79 L541.70,286.08 L541.80,289.38 L541.90,287.44 L542.00,284.14 L542.10,280.84 L542.20,277.54 L542.30,274.23 L542.40,270.92 L542.50,267.61 L542.60,264.30 L542.70,260.98 L542.80,257.66 L542.90,254.34 L543.00,251.02 L543.10,247.70 L543.20,244.37 L543.30,241.05 L543.40,237.72 L543.50,234.38 L543.60,231.05 L543.70,227.71 L543.80,224.37 L543.90,221.03 L544.00,217.69 L544.10,214.35 L544.20,211.00 L544.30,207.65 L544.40,204.30 L544.50,200.95 L544.60,197.83 L544.70,195.22 L544.80,193.12 L544.90,191.52 L545.00,190.43 L545.10,189.84 L545.20,189.92 L545.30,191.85 L545.40,195.48 L545.50,200.62 L545.60,207.16 L545.70,215.04 L545.80,224.21 L545.90,215.41 L546.00,207.16 L546.10,200.63 L546.20,195.97 L546.30,193.39 L546.40,193.24 L546.50,194.43 L546.60,196.73 L546.70,200.14 L546.80,204.65 L546.90,209.63 L547.00,214.61 L547.10,219.60 L547.20,224.58 L547.30,229.57 L547.40,234.57 L547.50,239.56 L547.60,244.56 L547.70,249.57 L547.80,254.57 L547.90,259.58 L548.00,264.59 L548.10,269.61 L548.20,274.63 L548.30,279.65 L548.40,284.68 L548.50,289.71 L548.60,291.89 L548.70,286.85 L548.80,281.81 L548.90,276.77 L549.00,271.72 L549.10,266.68 L549.20,261.62 L549.30,256.57 L549.40,251.51 L549.50,246.45 L549.60,241.38 L549.70,236.32 L549.80,231.24 L549.90,226.17 L550.00,221.09 L550.10,216.01 L550.20,210.93 L550.30,205.84 L550.40,201.01 L550.50,197.29 L550.60,194.72 L550.70,193.33 L550.80,193.23 L550.90,195.66 L551.00,200.33 L551.10,207.00 L551.20,215.53 L551.30,223.69 L551.40,214.29 L551.50,206.26 L551.60,199.68 L551.70,194.62 L551.80,191.22 L551.90,189.76 L552.10,190.80 L552.20,192.16 L552.30,194.08 L552.40,196.56 L552.50,199.59 L552.60,203.09 L552.70,206.62 L552.80,210.16 L552.90,213.70 L553.00,217.24 L553.10,220.78 L553.20,224.33 L553.30,227.88 L553.40,231.43 L553.50,234.98 L553.60,238.53 L553.70,242.09 L553.80,245.65 L553.90,249.21 L554.00,252.78 L554.10,256.34 L554.20,259.91 L554.30,263.48 L554.40,267.06 L554.50,270.63 L554.60,274.21 L554.70,277.79 L554.80,281.37 L554.90,284.96 L555.00,288.55 L555.20,284.47 L555.30,280.88 L555.40,277.28 L555.50,273.68 L555.60,270.08 L555.70,266.48 L555.80,262.87 L555.90,259.27 L556.00,255.66 L556.10,252.04 L556.20,248.43 L556.30,244.81 L556.40,241.19 L556.50,237.57 L556.60,233.95 L556.70,230.32 L556.80,226.70 L556.90,223.07 L557.00,219.43 L557.10,215.80 L557.20,212.16 L557.30,208.52 L557.40,204.88 L557.50,201.23 L557.60,197.83 L557.70,195.03 L557.80,192.82 L557.90,191.21 L558.00,190.19 L558.10,189.78 L558.20,190.74 L558.30,193.92 L558.40,198.95 L558.50,205.66 L558.60,213.95 L558.70,223.77 L558.80,214.94 L558.90,206.15 L559.00,199.41 L559.10,194.91 L559.20,193.02 L559.30,193.63 L559.40,195.55 L559.50,198.77 L559.60,203.30 L559.70,208.69 L559.80,214.09 L559.90,219.50 L560.00,224.91 L560.10,230.33 L560.20,235.75 L560.30,241.17 L560.40,246.60 L560.50,252.03 L560.60,257.46 L560.70,262.90 L560.80,268.34 L560.90,273.78 L561.00,279.23 L561.10,284.68 L561.20,290.13 L561.30,290.96 L561.40,285.49 L561.50,280.03 L561.60,274.56 L561.70,269.09 L561.80,263.61 L561.90,258.13 L562.00,252.65 L562.10,247.17 L562.20,241.68 L562.30,236.18 L562.40,230.69 L562.50,225.19 L562.60,219.68 L562.70,214.17 L562.80,208.66 L562.90,203.17 L563.00,198.59 L563.10,195.36 L563.20,193.51 L563.30,193.07 L563.40,195.41 L563.50,200.43 L563.60,207.78 L563.70,217.29 L563.80,220.97 L563.90,211.27 L564.00,203.20 L564.10,196.86 L564.20,192.38 L564.30,190.00 L564.40,189.92 L564.50,190.67 L564.60,192.08 L564.70,194.14 L564.80,196.86 L564.90,200.23 L565.00,204.04 L565.10,207.87 L565.20,211.70 L565.30,215.53 L565.40,219.36 L565.50,223.20 L565.60,227.04 L565.70,230.88 L565.80,234.72 L565.90,238.57 L566.00,242.42 L566.10,246.27 L566.20,250.12 L566.30,253.98 L566.40,257.84 L566.50,261.70 L566.60,265.56 L566.70,269.43 L566.80,273.30 L566.90,277.17 L567.00,281.04 L567.10,284.92 L567.20,288.80 L567.30,287.57 L567.40,283.69 L567.50,279.80 L567.60,275.92 L567.70,272.03 L567.80,268.13 L567.90,264.24 L568.00,260.34 L568.10,256.44 L568.20,252.54 L568.30,248.63 L568.40,244.72 L568.50,240.81 L568.60,236.90 L568.70,232.98 L568.80,229.07 L568.90,225.15 L569.00,221.22 L569.10,217.30 L569.20,213.37 L569.30,209.44 L569.40,205.51 L569.50,201.57 L569.60,197.88 L569.70,194.87 L569.80,192.56 L569.90,190.94 L570.00,190.02 L570.10,189.87 L570.20,192.01 L570.30,196.48 L570.40,202.98 L570.50,211.36 L570.60,221.53 L570.70,216.22 L570.80,206.54 L570.90,199.24 L571.00,194.55 L571.10,193.01 L571.20,193.98 L571.30,196.47 L571.40,200.49 L571.50,205.95 L571.60,211.78 L571.70,217.62 L571.80,223.45 L571.90,229.29 L572.00,235.14 L572.10,240.99 L572.20,246.84 L572.30,252.69 L572.40,258.55 L572.50,264.41 L572.60,270.28 L572.70,276.15 L572.80,282.03 L572.90,287.90 L573.00,292.71 L573.10,286.83 L573.20,280.94 L573.30,275.04 L573.40,269.15 L573.50,263.24 L573.60,257.34 L573.70,251.43 L573.80,245.52 L573.90,239.60 L574.00,233.68 L574.10,227.76 L574.20,221.83 L574.30,215.90 L574.40,209.97 L574.50,204.03 L574.60,198.90 L574.70,195.36 L574.80,193.41 L574.90,193.19 L575.00,196.28 L575.10,202.36 L575.20,211.08 L575.30,222.24 L575.40,215.62 L575.50,206.18 L575.60,198.69 L575.70,193.29 L575.80,190.25 L575.90,189.90 L576.00,190.68 L576.10,192.21 L576.20,194.50 L576.30,197.55 L576.40,201.35 L576.50,205.47 L576.60,209.59 L576.70,213.71 L576.80,217.83 L576.90,221.96 L577.00,226.09 L577.10,230.22 L577.20,234.36 L577.30,238.49 L577.40,242.63 L577.50,246.78" stroke="#1f3fd0" stroke-width="1.5"/>
<path d="M73.40,235.00 L73.42,234.36 L73.45,233.71 L73.47,233.07 L73.49,232.43 L73.51,231.79 L73.54,231.15 L73.56,230.52 L73.58,229.88 L73.60,229.25 L73.63,228.62 L73.65,227.99 L73.67,227.36 L73.70,226.73 L73.72,226.10 L73.74,225.48 L73.76,224.85 L73.79,224.23 L73.81,223.61 L73.83,222.99 L73.85,222.38 L73.88,221.76 L73.90,221.15 L73.92,220.53 L73.94,219.92 L73.97,219.31 L73.99,218.71 L74.01,218.10 L74.04,217.49 L74.06,216.89 L74.08,216.29 L74.10,215.69 L74.15,214.50 L74.19,213.31 L74.24,212.13 L74.29,210.95 L74.33,209.78 L74.38,208.62 L74.42,207.47 L74.47,206.32 L74.51,205.18 L74.56,204.05 L74.60,202.93 L74.65,201.81 L74.69,200.70 L74.74,199.60 L74.78,198.51 L74.83,197.42 L74.88,196.35 L74.92,195.28 L74.97,194.22 L75.01,193.17 L75.06,192.13 L75.10,191.09 L75.15,190.07 L75.19,189.06 L75.24,188.05 L75.28,187.06 L75.33,186.07 L75.37,185.10 L75.42,184.14 L75.47,183.19 L75.51,182.25 L75.56,181.32 L75.60,180.40 L75.65,179.50 L75.69,178.61 L75.74,177.73 L75.78,176.87 L75.83,176.02 L75.87,175.18 L75.92,174.36 L75.96,173.56 L76.01,172.77 L76.06,172.00 L76.10,171.26 L76.15,170.53 L76.19,169.82 L76.24,169.13 L76.28,168.48 L76.33,167.84 L76.37,167.24 L76.44,166.41 L76.51,165.68 L76.60,165.00 L76.67,165.65 L76.70,166.34 L76.73,167.00 L76.75,167.78 L76.78,168.67 L76.79,169.32 L76.81,170.02 L76.83,170.76 L76.84,171.55 L76.86,172.39 L76.88,173.27 L76.90,174.19 L76.91,175.16 L76.93,176.17 L76.95,177.22 L76.96,178.32 L76.98,179.45 L77.00,180.63 L77.01,181.23 L77.01,181.84 L77.02,182.47 L77.03,183.10 L77.04,183.75 L77.05,184.40 L77.06,185.06 L77.06,185.74 L77.07,186.42 L77.08,187.11 L77.09,187.82 L77.10,188.53 L77.11,189.25 L77.11,189.99 L77.12,190.73 L77.13,191.48 L77.14,192.24 L77.15,193.01 L77.16,193.79 L77.17,194.58 L77.17,195.38 L77.18,196.19 L77.19,197.01 L77.20,197.84 L77.21,198.67 L77.22,199.52 L77.22,200.38 L77.23,201.24 L77.24,202.12 L77.25,203.00 L77.27,202.16 L77.29,201.35 L77.31,200.58 L77.34,199.84 L77.36,199.13 L77.38,198.46 L77.40,197.82 L77.42,197.22 L77.46,196.12 L77.51,195.18 L77.55,194.38 L77.59,193.76 L77.66,193.15 L77.70,193.00 L77.76,193.60 L77.80,194.25 L77.84,194.98 L77.88,195.79 L77.92,196.65 L77.95,197.25 L77.98,197.88 L78.01,198.52 L78.03,199.18 L78.06,199.86 L78.09,200.56 L78.12,201.27 L78.14,201.99 L78.17,202.73 L78.20,203.48 L78.23,204.24 L78.26,205.01 L78.28,205.80 L78.31,206.60 L78.34,207.41 L78.37,208.23 L78.39,209.06 L78.42,209.90 L78.45,210.75 L78.48,211.61 L78.51,212.48 L78.53,213.35 L78.56,214.24 L78.59,215.13 L78.62,216.04 L78.64,216.95 L78.67,217.87 L78.70,218.80 L78.73,219.73 L78.76,220.67 L78.78,221.62 L78.81,222.58 L78.84,223.55 L78.87,224.52 L78.89,225.50 L78.92,226.48 L78.95,227.48 L78.98,228.48 L79.01,229.48 L79.03,230.50 L79.06,231.51 L79.09,232.54 L79.12,233.57 L79.14,234.61 L79.17,235.65 L79.20,236.70 L79.23,237.75 L79.26,238.81 L79.28,239.88 L79.31,240.95 L79.34,242.03 L79.37,243.11 L79.39,244.20 L79.42,245.30 L79.45,246.40 L79.48,247.50 L79.51,248.61 L79.53,249.72 L79.56,250.84 L79.59,251.97 L79.62,253.10 L79.64,254.23 L79.67,255.37 L79.70,256.52 L79.73,257.67 L79.76,258.82 L79.78,259.98 L79.81,261.14 L79.84,262.31 L79.87,263.48 L79.89,264.66 L79.92,265.84 L79.95,267.03 L79.98,268.22 L80.01,269.41 L80.03,270.61 L80.05,271.21 L80.06,271.81 L80.08,272.42 L80.09,273.02 L80.10,273.63 L80.12,274.23 L80.13,274.84 L80.14,275.45 L80.16,276.06 L80.17,276.67 L80.19,277.28 L80.20,277.89 L80.21,278.51 L80.23,279.12 L80.24,279.74 L80.26,280.35 L80.27,280.97 L80.28,281.59 L80.30,282.21 L80.31,282.83 L80.33,283.45 L80.34,284.08 L80.35,284.70 L80.37,285.32 L80.38,285.95 L80.39,286.58 L80.41,287.20 L80.42,287.83 L80.44,288.46 L80.45,289.09 L80.46,289.72 L80.48,290.36 L80.49,290.99 L80.51,291.62 L80.52,292.26 L80.53,292.89 L80.55,293.53 L80.56,294.17 L80.58,294.81 L80.59,295.45 L80.60,296.09 L80.62,296.73 L80.63,297.37 L80.64,298.02 L80.66,298.66 L80.67,299.31 L80.69,299.95 L80.70,300.60 L80.72,299.95 L80.74,299.30 L80.76,298.66 L80.78,298.01 L80.79,297.37 L80.81,296.72 L80.83,296.08 L80.85,295.44 L80.87,294.80 L80.89,294.16 L80.91,293.52 L80.93,292.88 L80.94,292.25 L80.96,291.61 L80.98,290.98 L81.00,290.34 L81.02,289.71 L81.04,289.08 L81.06,288.45 L81.08,287.82 L81.10,287.19 L81.11,286.56 L81.13,285.93 L81.15,285.31 L81.17,284.68 L81.19,284.06 L81.21,283.44 L81.23,282.82 L81.25,282.20 L81.27,281.58 L81.28,280.96 L81.30,280.34 L81.32,279.72 L81.34,279.11 L81.36,278.49 L81.38,277.88 L81.40,277.27 L81.42,276.66 L81.43,276.05 L81.45,275.44 L81.47,274.83 L81.49,274.23 L81.51,273.62 L81.53,273.02 L81.55,272.41 L81.57,271.81 L81.59,271.21 L81.60,270.61 L81.64,269.41 L81.68,268.22 L81.72,267.03 L81.76,265.85 L81.79,264.67 L81.83,263.50 L81.87,262.33 L81.91,261.17 L81.94,260.01 L81.98,258.85 L82.02,257.71 L82.06,256.56 L82.09,255.42 L82.13,254.29 L82.17,253.16 L82.21,252.04 L82.24,250.92 L82.28,249.81 L82.32,248.70 L82.36,247.60 L82.40,246.50 L82.43,245.41 L82.47,244.33 L82.51,243.25 L82.55,242.17 L82.58,241.11 L82.62,240.04 L82.66,238.99 L82.70,237.94 L82.73,236.90 L82.77,235.86 L82.81,234.83 L82.85,233.81 L82.89,232.79 L82.92,231.78 L82.96,230.77 L83.00,229.78 L83.04,228.79 L83.07,227.80 L83.11,226.83 L83.15,225.86 L83.19,224.90 L83.22,223.95 L83.26,223.00 L83.30,222.07 L83.34,221.14 L83.38,220.22 L83.41,219.30 L83.45,218.40 L83.49,217.50 L83.53,216.62 L83.56,215.74 L83.60,214.88 L83.64,214.02 L83.68,213.17 L83.71,212.33 L83.75,211.51 L83.79,210.69 L83.83,209.89 L83.87,209.10 L83.90,208.32 L83.94,207.55 L83.98,206.79 L84.02,206.05 L84.05,205.33 L84.09,204.61 L84.13,203.92 L84.17,203.24 L84.20,202.58 L84.24,201.93 L84.28,201.31 L84.32,200.71 L84.37,199.85 L84.43,199.05 L84.49,198.33 L84.54,197.72 L84.60,197.30 L84.72,197.97 L84.77,198.57 L84.82,199.34 L84.85,199.94 L84.88,200.61 L84.92,201.34 L84.95,202.14 L84.98,203.00 L85.02,203.93 L85.05,204.91 L85.08,205.95 L85.12,207.06 L85.15,208.22 L85.17,208.82 L85.18,209.44 L85.20,210.07 L85.22,210.72 L85.23,211.38 L85.25,212.05 L85.27,212.74 L85.28,213.44 L85.30,214.16 L85.32,214.89 L85.33,215.63 L85.35,216.39 L85.37,217.16 L85.38,217.94 L85.40,218.74 L85.42,219.55 L85.43,220.37 L85.45,221.21 L85.47,222.06 L85.48,222.92 L85.50,223.80 L85.52,222.91 L85.54,222.03 L85.56,221.16 L85.58,220.30 L85.60,219.44 L85.62,218.60 L85.64,217.76 L85.67,216.93 L85.69,216.11 L85.71,215.30 L85.73,214.49 L85.75,213.70 L85.77,212.91 L85.79,212.13 L85.81,211.36 L85.83,210.60 L85.85,209.84 L85.87,209.10 L85.89,208.36 L85.91,207.63 L85.93,206.91 L85.96,206.20 L85.98,205.50 L86.00,204.81 L86.02,204.12 L86.04,203.45 L86.06,202.78 L86.08,202.12 L86.10,201.47 L86.12,200.83 L86.14,200.20 L86.16,199.58 L86.18,198.97 L86.20,198.36 L86.24,197.18 L86.29,196.04 L86.33,194.93 L86.37,193.86 L86.41,192.82 L86.45,191.83 L86.49,190.87 L86.53,189.95 L86.58,189.07 L86.62,188.23 L86.66,187.43 L86.70,186.67 L86.74,185.95 L86.78,185.27 L86.82,184.63 L86.89,183.76 L86.95,182.98 L87.01,182.31 L87.09,181.58 L87.20,180.95 L87.28,180.71 L87.30,180.70 L87.46,181.31 L87.58,181.96 L87.69,182.70 L87.81,183.51 L87.93,184.38 L88.01,184.99 L88.09,185.62 L88.17,186.27 L88.24,186.93 L88.32,187.62 L88.40,188.32 L88.48,189.03 L88.56,189.76 L88.64,190.50 L88.72,191.26 L88.79,192.03 L88.87,192.81 L88.95,193.60 L89.03,194.41 L89.11,195.22 L89.19,196.05 L89.27,196.88 L89.35,197.73 L89.42,198.59 L89.50,199.45 L89.58,200.33 L89.66,201.21 L89.74,202.11 L89.82,203.01 L89.90,203.92 L89.97,204.84 L90.05,205.77 L90.13,206.70 L90.21,207.64 L90.29,208.59 L90.37,209.55 L90.45,210.52 L90.53,211.49 L90.60,212.47 L90.68,213.46 L90.76,214.45 L90.84,215.45 L90.92,216.46 L91.00,217.47 L91.08,218.49 L91.15,219.52 L91.23,220.55 L91.31,221.59 L91.39,222.64 L91.47,223.69 L91.55,224.75 L91.63,225.81 L91.71,226.88 L91.78,227.95 L91.86,229.03 L91.94,230.12 L92.02,231.21 L92.10,232.31 L92.18,233.41 L92.26,234.52 L92.34,235.63 L92.41,236.75 L92.49,237.87 L92.57,239.00 L92.65,240.14 L92.73,241.27 L92.81,242.42 L92.89,243.57 L92.96,244.72 L93.04,245.88 L93.12,247.04 L93.20,248.21 L93.28,249.38 L93.36,250.56 L93.44,251.74 L93.52,252.93 L93.59,254.12 L93.67,255.31 L93.71,255.91 L93.75,256.51 L93.79,257.11 L93.83,257.72 L93.87,258.32 L93.91,258.93 L93.95,259.53 L93.99,260.14 L94.03,260.75 L94.07,261.36 L94.11,261.97 L94.14,262.58 L94.18,263.19 L94.22,263.80 L94.26,264.42 L94.30,265.03 L94.34,265.65 L94.38,266.27 L94.42,266.88 L94.46,267.50 L94.50,268.12 L94.54,268.75 L94.58,269.37 L94.62,269.99 L94.66,270.62 L94.70,271.24 L94.73,271.87 L94.77,272.50 L94.81,273.13 L94.85,273.76 L94.89,274.39 L94.93,275.02 L94.97,275.65 L95.01,276.28 L95.05,276.92 L95.09,277.55 L95.13,278.19 L95.17,278.83 L95.21,279.47 L95.25,280.10 L95.29,280.74 L95.32,281.39 L95.36,282.03 L95.40,282.67 L95.44,283.31 L95.48,283.96 L95.52,284.61 L95.56,285.25 L95.60,285.90 L95.65,285.28 L95.70,284.65 L95.76,284.03 L95.81,283.41 L95.86,282.79 L95.91,282.17 L95.96,281.55 L96.02,280.93 L96.07,280.31 L96.12,279.69 L96.17,279.08 L96.22,278.46 L96.27,277.85 L96.33,277.23 L96.38,276.62 L96.43,276.01 L96.48,275.39 L96.53,274.78 L96.59,274.17 L96.64,273.56 L96.69,272.96 L96.74,272.35 L96.79,271.74 L96.85,271.13 L96.90,270.53 L96.95,269.92 L97.00,269.32 L97.05,268.72 L97.11,268.12 L97.16,267.52 L97.21,266.91 L97.26,266.32 L97.31,265.72 L97.36,265.12 L97.47,263.93 L97.57,262.74 L97.68,261.55 L97.78,260.37 L97.88,259.19 L97.99,258.01 L98.09,256.84 L98.20,255.67 L98.30,254.51 L98.40,253.34 L98.51,252.19 L98.61,251.03 L98.71,249.88 L98.82,248.74 L98.92,247.60 L99.03,246.46 L99.13,245.32 L99.23,244.19 L99.34,243.07 L99.44,241.94 L99.54,240.82 L99.65,239.71 L99.75,238.60 L99.86,237.50 L99.96,236.39 L100.06,235.30 L100.17,234.20 L100.27,233.12 L100.38,232.03 L100.48,230.95 L100.58,229.88 L100.69,228.81 L100.79,227.75 L100.89,226.69 L101.00,225.63 L101.10,224.58 L101.21,223.54 L101.31,222.50 L101.41,221.46 L101.52,220.43 L101.62,219.41 L101.72,218.39 L101.83,217.38 L101.93,216.37 L102.04,215.37 L102.14,214.37 L102.24,213.38 L102.35,212.40 L102.45,211.42 L102.56,210.45 L102.66,209.48 L102.76,208.52 L102.87,207.57 L102.97,206.62 L103.07,205.68 L103.18,204.75 L103.28,203.83 L103.39,202.91 L103.49,202.00 L103.59,201.10 L103.70,200.21 L103.80,199.32 L103.90,198.45 L104.01,197.58 L104.11,196.72 L104.22,195.87 L104.32,195.03 L104.42,194.20 L104.53,193.38 L104.63,192.57 L104.74,191.77 L104.84,190.99 L104.94,190.21 L105.05,189.45 L105.15,188.70 L105.25,187.97 L105.36,187.25 L105.46,186.55 L105.57,185.87 L105.67,185.20 L105.77,184.55 L105.88,183.93 L105.98,183.33 L106.14,182.49 L106.29,181.74 L106.45,181.13 L106.50,181.00 L106.79,181.66 L106.93,182.37 L107.04,183.04 L107.15,183.84 L107.26,184.74 L107.33,185.41 L107.40,186.12 L107.47,186.88 L107.54,187.69 L107.62,188.54 L107.69,189.44 L107.76,190.38 L107.83,191.37 L107.90,192.40 L107.98,193.48 L108.05,194.59 L108.12,195.75 L108.19,196.95 L108.23,197.57 L108.26,198.20 L108.30,198.83 L108.34,199.48 L108.37,200.14 L108.41,200.81 L108.44,201.48 L108.48,202.17 L108.52,202.87 L108.55,203.58 L108.59,204.29 L108.62,205.02 L108.66,205.76 L108.70,206.51 L108.73,207.27 L108.77,208.03 L108.80,208.81 L108.84,209.60 L108.88,210.39 L108.91,211.20 L108.95,212.02 L108.98,212.84 L109.02,213.68 L109.06,214.52 L109.09,215.38 L109.13,216.24 L109.16,217.12 L109.20,218.00 L109.22,217.12 L109.25,216.24 L109.27,215.38 L109.29,214.53 L109.31,213.68 L109.34,212.85 L109.36,212.02 L109.38,211.21 L109.41,210.40 L109.43,209.61 L109.45,208.82 L109.48,208.04 L109.50,207.28 L109.52,206.52 L109.54,205.78 L109.57,205.04 L109.59,204.32 L109.61,203.60 L109.64,202.90 L109.66,202.20 L109.68,201.52 L109.71,200.84 L109.73,200.18 L109.75,199.52 L109.77,198.88 L109.80,198.25 L109.82,197.62 L109.84,197.01 L109.87,196.41 L109.91,195.24 L109.96,194.11 L110.00,193.02 L110.05,191.98 L110.10,190.98 L110.14,190.03 L110.19,189.12 L110.23,188.26 L110.28,187.44 L110.33,186.68 L110.37,185.95 L110.42,185.28 L110.46,184.66 L110.53,183.82 L110.60,183.10 L110.67,182.49 L110.76,181.90 L110.88,181.52 L110.90,181.50 L111.12,182.23 L111.28,182.97 L111.45,183.79 L111.61,184.68 L111.72,185.31 L111.83,185.95 L111.94,186.62 L112.04,187.30 L112.15,188.00 L112.26,188.71 L112.37,189.44 L112.48,190.18 L112.59,190.93 L112.70,191.70 L112.81,192.48 L112.92,193.27 L113.03,194.07 L113.13,194.88 L113.24,195.70 L113.35,196.53 L113.46,197.37 L113.57,198.22 L113.68,199.07 L113.79,199.94 L113.90,200.81 L114.01,201.70 L114.12,202.59 L114.22,203.48 L114.33,204.39 L114.44,205.30 L114.55,206.22 L114.66,207.14 L114.77,208.08 L114.88,209.02 L114.99,209.96 L115.10,210.91 L115.21,211.87 L115.31,212.83 L115.42,213.80 L115.53,214.78 L115.64,215.76 L115.75,216.75 L115.86,217.74 L115.97,218.74 L116.08,219.75 L116.19,220.75 L116.30,221.77 L116.40,222.79 L116.51,223.81 L116.62,224.84 L116.73,225.88 L116.84,226.92 L116.95,227.96 L117.06,229.01 L117.17,230.06 L117.28,231.12 L117.39,232.18 L117.50,233.25 L117.60,234.32 L117.71,235.40 L117.82,236.48 L117.93,237.56 L118.04,238.65 L118.15,239.74 L118.26,240.84 L118.37,241.94 L118.48,243.04 L118.59,244.15 L118.69,245.27 L118.80,246.38 L118.91,247.50 L119.02,248.63 L119.13,249.76 L119.24,250.89 L119.35,252.02 L119.46,253.16 L119.57,254.31 L119.68,255.45 L119.78,256.60 L119.89,257.76 L120.00,258.91 L120.11,260.07 L120.22,261.24 L120.33,262.41 L120.44,263.58 L120.55,264.75 L120.66,265.93 L120.77,267.11 L120.87,268.29 L120.98,269.48 L121.09,270.67 L121.20,271.86 L121.26,272.46 L121.31,273.06 L121.36,273.66 L121.42,274.26 L121.47,274.86 L121.53,275.46 L121.58,276.07 L121.64,276.67 L121.69,277.28 L121.75,277.88 L121.80,278.49 L121.86,279.09 L121.91,279.70 L121.96,280.31 L122.02,280.92 L122.07,281.53 L122.13,282.14 L122.18,282.75 L122.24,283.36 L122.29,283.97 L122.35,284.58 L122.40,285.20 L122.45,285.81 L122.51,286.43 L122.56,287.05 L122.62,287.66 L122.67,288.28 L122.73,288.90 L122.78,289.52 L122.84,290.14 L122.89,290.76 L122.95,291.38 L123.00,292.00 L123.08,291.38 L123.15,290.75 L123.23,290.13 L123.31,289.51 L123.38,288.89 L123.46,288.27 L123.53,287.65 L123.61,287.03 L123.69,286.41 L123.76,285.80 L123.84,285.18 L123.92,284.57 L123.99,283.95 L124.07,283.34 L124.15,282.73 L124.22,282.11 L124.30,281.50 L124.38,280.89 L124.45,280.28 L124.53,279.67 L124.60,279.06 L124.68,278.45 L124.76,277.85 L124.83,277.24 L124.91,276.64 L124.99,276.03 L125.06,275.43 L125.14,274.83 L125.22,274.22 L125.29,273.62 L125.37,273.02 L125.44,272.42 L125.52,271.82 L125.60,271.22 L125.67,270.63 L125.75,270.03 L125.83,269.43 L125.98,268.25 L126.13,267.06 L126.28,265.88 L126.44,264.70 L126.59,263.52 L126.74,262.35 L126.90,261.19 L127.05,260.02 L127.20,258.86 L127.35,257.70 L127.51,256.55 L127.66,255.40 L127.81,254.25 L127.97,253.11 L128.12,251.97 L128.27,250.83 L128.42,249.70 L128.58,248.58 L128.73,247.45 L128.88,246.33 L129.03,245.22 L129.19,244.11 L129.34,243.00 L129.49,241.90 L129.65,240.80 L129.80,239.70 L129.95,238.61 L130.10,237.53 L130.26,236.44 L130.41,235.37 L130.56,234.29 L130.72,233.23 L130.87,232.16 L131.02,231.10 L131.17,230.05 L131.33,229.00 L131.48,227.96 L131.63,226.92 L131.78,225.88 L131.94,224.85 L132.09,223.83 L132.24,222.81 L132.40,221.80 L132.55,220.79 L132.70,219.79 L132.85,218.79 L133.01,217.80 L133.16,216.81 L133.31,215.83 L133.47,214.86 L133.62,213.89 L133.77,212.93 L133.92,211.98 L134.08,211.03 L134.23,210.09 L134.38,209.15 L134.53,208.23 L134.69,207.31 L134.84,206.39 L134.99,205.49 L135.15,204.59 L135.30,203.70 L135.45,202.82 L135.60,201.94 L135.76,201.08 L135.91,200.22 L136.06,199.37 L136.22,198.53 L136.37,197.71 L136.52,196.89 L136.67,196.08 L136.83,195.28 L136.98,194.50 L137.13,193.72 L137.28,192.96 L137.44,192.21 L137.59,191.48 L137.74,190.76 L137.90,190.05 L138.05,189.36 L138.20,188.69 L138.35,188.04 L138.51,187.41 L138.66,186.81 L138.89,185.95 L139.12,185.17 L139.35,184.51 L139.50,184.20 L139.85,184.73 L140.04,185.40 L140.19,186.05 L140.34,186.82 L140.49,187.71 L140.58,188.37 L140.68,189.07 L140.78,189.83 L140.88,190.63 L140.98,191.48 L141.08,192.38 L141.18,193.32 L141.28,194.31 L141.37,195.35 L141.47,196.42 L141.57,197.55 L141.67,198.71 L141.72,199.31 L141.77,199.92 L141.82,200.54 L141.87,201.17 L141.92,201.81 L141.97,202.47 L142.02,203.13 L142.06,203.80 L142.11,204.49 L142.16,205.18 L142.21,205.89 L142.26,206.60 L142.31,207.33 L142.36,208.06 L142.41,208.81 L142.46,209.56 L142.51,210.33 L142.56,211.10 L142.61,211.89 L142.66,212.69 L142.71,213.49 L142.75,214.31 L142.80,215.14 L142.85,215.97 L142.90,216.82 L142.95,217.67 L143.00,218.54 L143.05,219.41 L143.10,220.30 L143.16,219.41 L143.21,218.53 L143.27,217.66 L143.32,216.80 L143.38,215.94 L143.44,215.10 L143.49,214.27 L143.55,213.45 L143.60,212.63 L143.66,211.83 L143.72,211.04 L143.77,210.25 L143.83,209.48 L143.88,208.72 L143.94,207.96 L144.00,207.22 L144.05,206.48 L144.11,205.76 L144.16,205.05 L144.22,204.34 L144.28,203.65 L144.33,202.97 L144.39,202.29 L144.44,201.63 L144.50,200.98 L144.56,200.34 L144.61,199.70 L144.67,199.08 L144.72,198.47 L144.78,197.87 L144.89,196.70 L145.00,195.58 L145.12,194.50 L145.23,193.46 L145.34,192.46 L145.45,191.51 L145.56,190.60 L145.68,189.74 L145.79,188.93 L145.90,188.16 L146.01,187.44 L146.12,186.77 L146.24,186.15 L146.40,185.31 L146.57,184.59 L146.74,183.99 L146.96,183.40 L147.30,183.00 L147.83,183.45 L148.22,184.29 L148.49,185.05 L148.75,185.94 L149.02,186.93 L149.28,187.99 L149.54,189.10 L149.81,190.24 L150.07,191.38 L150.33,192.49 L150.60,193.55 L150.86,194.53 L151.13,195.42 L151.39,196.29 L151.65,197.16 L151.92,198.03 L152.18,198.89 L152.45,199.76 L152.71,200.63 L152.97,201.51 L153.24,202.39 L153.50,203.28 L153.76,204.17 L154.03,205.08 L154.29,206.00 L154.56,206.93 L154.82,207.87 L155.08,208.83 L155.35,209.80 L155.61,210.80 L155.88,211.81 L156.14,212.84 L156.40,213.90 L156.67,214.96 L156.93,216.05 L157.19,217.14 L157.46,218.26 L157.72,219.38 L157.99,220.51 L158.25,221.66 L158.51,222.81 L158.78,223.97 L159.04,225.14 L159.17,225.72 L159.31,226.31 L159.44,226.90 L159.57,227.49 L159.70,228.07 L159.83,228.66 L159.96,229.26 L160.10,229.85 L160.23,230.44 L160.36,231.03 L160.49,231.62 L160.62,232.21 L160.76,232.80 L160.89,233.39 L161.02,233.98 L161.15,234.57 L161.28,235.15 L161.42,235.74 L161.68,236.91 L161.94,238.07 L162.21,239.23 L162.47,240.37 L162.74,241.51 L163.00,242.64 L163.26,243.75 L163.53,244.86 L163.79,245.94 L164.05,247.02 L164.32,248.07 L164.58,249.12 L164.85,250.16 L165.11,251.21 L165.37,252.24 L165.64,253.28 L165.90,254.31 L166.17,255.34 L166.43,256.37 L166.69,257.39 L166.96,258.41 L167.22,259.43 L167.48,260.44 L167.75,261.45 L168.01,262.46 L168.28,263.46 L168.54,264.46 L168.80,265.45 L169.07,266.45 L169.33,267.43 L169.60,268.42 L169.86,269.40 L170.12,270.38 L170.39,271.35 L170.65,272.32 L170.91,273.29 L171.18,274.25 L171.44,275.21 L171.71,276.16 L171.97,277.12 L172.23,278.06 L172.50,279.00 L172.76,279.94 L173.03,280.88 L173.29,281.81 L173.55,282.74 L173.82,283.66 L174.08,284.58 L174.34,285.49 L174.61,286.40 L174.87,287.30 L175.14,288.20 L175.40,289.10 L175.61,288.44 L175.83,287.77 L176.04,287.11 L176.25,286.45 L176.46,285.79 L176.68,285.14 L176.89,284.48 L177.10,283.82 L177.31,283.17 L177.53,282.51 L177.74,281.86 L177.95,281.21 L178.16,280.56 L178.38,279.90 L178.59,279.26 L178.80,278.61 L179.01,277.96 L179.23,277.31 L179.44,276.67 L179.65,276.03 L179.86,275.38 L180.08,274.74 L180.29,274.10 L180.50,273.46 L180.72,272.82 L180.93,272.18 L181.14,271.55 L181.35,270.91 L181.57,270.28 L181.78,269.64 L181.99,269.01 L182.20,268.38 L182.42,267.75 L182.63,267.12 L182.84,266.49 L183.05,265.87 L183.27,265.24 L183.48,264.62 L183.69,263.99 L183.90,263.37 L184.12,262.75 L184.33,262.13 L184.54,261.51 L184.75,260.89 L184.97,260.28 L185.18,259.66 L185.39,259.05 L185.61,258.43 L185.82,257.82 L186.03,257.21 L186.24,256.60 L186.46,255.99 L186.67,255.39 L186.88,254.78 L187.09,254.18 L187.31,253.57 L187.52,252.97 L187.73,252.37 L187.94,251.77 L188.16,251.17 L188.37,250.57 L188.58,249.98 L188.79,249.38 L189.01,248.79 L189.22,248.19 L189.43,247.60 L189.65,247.01 L189.86,246.42 L190.07,245.84 L190.28,245.25 L190.50,244.66 L190.71,244.08 L190.92,243.50 L191.13,242.92 L191.35,242.34 L191.56,241.76 L191.77,241.18 L191.98,240.60 L192.20,240.03 L192.41,239.46 L192.62,238.88 L192.83,238.31 L193.05,237.74 L193.26,237.17 L193.47,236.61 L193.68,236.04 L193.90,235.48 L194.11,234.92 L194.32,234.35 L194.75,233.24 L195.17,232.12 L195.60,231.02 L196.02,229.92 L196.45,228.82 L196.87,227.73 L197.30,226.65 L197.72,225.57 L198.15,224.50 L198.57,223.43 L199.00,222.37 L199.43,221.32 L199.85,220.27 L200.28,219.23 L200.70,218.20 L201.13,217.17 L201.55,216.15 L201.98,215.14 L202.40,214.13 L202.83,213.13 L203.25,212.14 L203.68,211.15 L204.10,210.18 L204.53,209.20 L204.95,208.24 L205.38,207.29 L205.80,206.34 L206.23,205.40 L206.65,204.47 L207.08,203.54 L207.50,202.63 L207.93,201.72 L208.35,200.82 L208.78,199.93 L209.21,199.05 L209.63,198.18 L210.06,197.32 L210.48,196.46 L210.91,195.62 L211.33,194.79 L211.76,193.97 L212.18,193.15 L212.61,192.35 L213.03,191.56 L213.46,190.79 L213.88,190.02 L214.31,189.26 L214.73,188.52 L215.16,187.80 L215.58,187.08 L216.01,186.38 L216.43,185.69 L216.86,185.02 L217.28,184.37 L217.71,183.73 L218.14,183.11 L218.56,182.51 L218.99,181.93 L219.41,181.38 L219.84,180.84 L220.26,180.34 L220.69,179.86 L221.11,179.42 L221.75,178.83 L222.39,178.38 L223.07,178.36 L223.69,178.60 L224.32,179.05 L224.79,179.51 L225.26,180.08 L225.72,180.77 L226.04,181.29 L226.35,181.86 L226.66,182.47 L226.97,183.14 L227.29,183.85 L227.60,184.62 L227.91,185.43 L228.22,186.30 L228.54,187.21 L228.85,188.18 L229.16,189.19 L229.47,190.25 L229.79,191.36 L230.10,192.52 L230.26,193.12 L230.41,193.73 L230.57,194.35 L230.72,194.99 L230.88,195.64 L231.04,196.30 L231.19,196.97 L231.35,197.66 L231.51,198.35 L231.66,199.06 L231.82,199.78 L231.97,200.52 L232.13,201.27 L232.29,202.02 L232.44,202.80 L232.60,203.58 L232.76,204.38 L232.91,205.18 L233.07,206.01 L233.22,206.84 L233.38,207.68 L233.54,208.54 L233.69,209.41 L233.85,210.30 L234.01,211.19 L234.16,212.10 L234.32,213.02 L234.47,213.95 L234.63,214.89 L234.79,215.85 L234.94,216.82 L235.10,217.80 L235.28,216.82 L235.46,215.85 L235.65,214.90 L235.83,213.95 L236.01,213.02 L236.19,212.10 L236.37,211.20 L236.56,210.31 L236.74,209.43 L236.92,208.56 L237.10,207.71 L237.28,206.87 L237.47,206.04 L237.65,205.22 L237.83,204.42 L238.01,203.63 L238.19,202.85 L238.38,202.08 L238.56,201.33 L238.74,200.59 L238.92,199.86 L239.11,199.14 L239.29,198.44 L239.47,197.75 L239.65,197.08 L239.83,196.41 L240.02,195.76 L240.20,195.12 L240.38,194.49 L240.56,193.88 L240.74,193.28 L240.93,192.69 L241.11,192.11 L241.47,191.00 L241.84,189.94 L242.20,188.93 L242.56,187.96 L242.93,187.05 L243.29,186.19 L243.66,185.38 L244.02,184.62 L244.38,183.91 L244.75,183.26 L245.11,182.65 L245.48,182.09 L245.84,181.58 L246.39,180.92 L246.93,180.37 L247.48,179.93 L248.03,179.61 L248.75,179.36 L249.54,179.35 L250.26,179.58 L250.97,179.89 L251.69,180.23 L252.41,180.61 L253.13,181.02 L253.85,181.45 L254.56,181.90 L255.28,182.37 L256.00,182.85 L256.72,183.36 L257.43,183.87 L258.15,184.40 L258.87,184.95 L259.35,185.32 L259.83,185.69 L260.31,186.07 L260.78,186.46 L261.26,186.85 L261.74,187.24 L262.22,187.64 L262.70,188.05 L263.18,188.46 L263.66,188.87 L264.13,189.29 L264.61,189.71 L265.09,190.13 L265.57,190.56 L266.05,190.99 L266.53,191.43 L267.00,191.87 L267.48,192.31 L267.96,192.76 L268.44,193.21 L268.92,193.66 L269.40,194.12 L269.88,194.58 L270.35,195.04 L270.83,195.51 L271.31,195.98 L271.79,196.45 L272.27,196.93 L272.75,197.41 L273.23,197.89 L273.70,198.37 L274.18,198.86 L274.66,199.35 L275.14,199.84 L275.62,200.34 L276.10,200.84 L276.57,201.34 L277.05,201.84 L277.53,202.35 L278.01,202.86 L278.49,203.37 L278.97,203.89 L279.45,204.40 L279.92,204.92 L280.16,205.18 L280.40,204.80" stroke="#4a00b0" stroke-width="1.5"/>
<path d="M73.40,74.00 L73.40,75.00 L73.40,76.00 L73.40,76.99 L73.40,77.99 L73.40,78.99 L73.40,79.99 L73.40,80.99 L73.40,81.99 L73.40,82.98 L73.40,83.98 L73.40,84.98 L73.40,85.98 L73.40,86.98 L73.40,87.98 L73.41,88.97 L73.41,89.97 L73.41,90.97 L73.41,91.97 L73.41,92.97 L73.41,93.97 L73.41,94.96 L73.41,95.96 L73.41,96.96 L73.41,97.96 L73.41,98.96 L73.41,99.95 L73.41,100.95 L73.41,101.95 L73.41,102.95 L73.41,103.95 L73.41,104.95 L73.41,105.94 L73.41,106.94 L73.41,107.94 L73.41,108.94 L73.41,109.94 L73.41,110.94 L73.41,111.93 L73.41,112.93 L73.41,113.93 L73.41,114.93 L73.41,115.93 L73.41,116.93 L73.42,117.92 L73.42,118.92 L73.42,119.92 L73.42,120.92 L73.42,121.92 L73.42,122.92 L73.42,123.91 L73.42,124.91 L73.42,125.91 L73.42,126.91 L73.42,127.91 L73.42,128.90 L73.42,129.90 L73.42,130.90 L73.42,131.90 L73.42,132.90 L73.42,133.90 L73.42,134.89 L73.42,135.89 L73.42,136.89 L73.42,137.89 L73.42,138.89 L73.42,139.89 L73.42,140.88 L73.42,141.88 L73.42,142.88 L73.42,143.88 L73.42,144.88 L73.42,145.88 L73.43,146.87 L73.43,147.87 L73.43,148.87 L73.43,149.87 L73.43,150.87 L73.43,151.86 L73.43,152.86 L73.43,153.86 L73.43,154.86 L73.43,155.86 L73.43,156.86 L73.43,157.85 L73.43,158.85 L73.43,159.85 L73.43,160.85 L73.43,161.85 L73.43,162.85 L73.43,163.84 L73.43,164.84 L73.43,165.84 L73.43,166.84 L73.43,167.84 L73.43,168.84 L73.43,169.83 L73.43,170.83 L73.43,171.83 L73.43,172.83 L73.43,173.83 L73.44,174.82 L73.44,175.82 L73.44,176.82 L73.44,177.82 L73.44,178.82 L73.44,179.82 L73.44,180.81 L73.44,181.81 L73.44,182.81 L73.44,183.81 L73.44,184.81 L73.44,185.81 L73.44,186.80 L73.44,187.80 L73.44,188.80 L73.44,189.80 L73.44,190.80 L73.44,191.80 L73.44,192.79 L73.44,193.79 L73.44,194.79 L73.44,195.79 L73.44,196.79 L73.44,197.79 L73.44,198.78 L73.44,199.78 L73.44,200.78 L73.44,201.78 L73.44,202.78 L73.45,203.77 L73.45,204.77 L73.45,205.77 L73.45,206.77 L73.45,207.77 L73.45,208.77 L73.45,209.76 L73.45,210.76 L73.45,211.76 L73.45,212.76 L73.45,213.76 L73.45,214.76 L73.45,215.75 L73.45,216.75 L73.45,217.75 L73.45,218.75 L73.45,219.75 L73.45,220.75 L73.45,221.74 L73.45,222.74 L73.45,223.74 L73.45,224.74 L73.45,225.74 L73.45,226.73 L73.45,227.73 L73.45,228.73 L73.45,229.73 L73.45,230.73 L73.45,231.73 L73.46,232.72 L73.46,233.72 L73.46,234.72 L73.46,235.72 L73.46,236.72 L73.46,237.72 L73.46,238.71 L73.46,239.71 L73.46,240.71 L73.46,241.71 L73.46,242.71 L73.46,243.71 L73.46,244.70 L73.46,245.70 L73.46,246.70 L73.46,247.70 L73.46,248.70 L73.46,249.69 L73.46,250.69 L73.46,251.69 L73.46,252.69 L73.46,253.69 L73.46,254.69 L73.46,255.68 L73.46,256.68 L73.46,257.68 L73.46,258.68 L73.46,259.68 L73.46,260.68 L73.47,261.67 L73.47,262.67 L73.47,263.67 L73.47,264.67 L73.47,265.67 L73.47,266.67 L73.47,267.66 L73.47,268.66 L73.47,269.66 L73.47,270.66 L73.47,271.66 L73.47,272.66 L73.47,273.65 L73.47,274.65 L73.47,275.65 L73.47,276.65 L73.47,277.65 L73.47,278.64 L73.47,279.64 L73.47,280.64 L73.47,281.64 L73.47,282.64 L73.47,283.64 L73.47,284.63 L73.47,285.63 L73.47,286.63 L73.47,287.63 L73.47,288.63 L73.47,289.63 L73.48,290.62 L73.48,291.62 L73.48,292.62 L73.48,293.62 L73.48,294.62 L73.48,295.62 L73.48,296.61 L73.48,297.61 L73.48,298.61 L73.48,299.61 L73.48,300.61 L73.48,301.60 L73.48,302.60 L73.48,303.60 L73.48,304.60 L73.48,305.60 L73.48,306.60 L73.48,307.59 L73.48,308.59 L73.48,309.59 L73.48,310.59 L73.48,311.59 L73.48,312.59 L73.48,313.58 L73.48,314.58 L73.48,315.58 L73.48,316.58 L73.48,317.58 L73.48,318.58 L73.49,319.57 L73.49,320.57 L73.49,321.57 L73.49,322.57 L73.49,323.57 L73.49,324.56 L73.49,325.56 L73.49,326.56 L73.49,327.56 L73.49,328.56 L73.49,329.56 L73.49,330.55 L73.49,331.55 L73.49,332.55 L73.49,333.55 L73.49,334.55 L73.49,335.55 L73.49,336.54 L73.49,337.54 L73.49,338.54 L73.49,339.54 L73.49,340.54 L73.49,341.54 L73.49,342.53 L73.49,343.53 L73.49,344.53 L73.49,345.53 L73.49,346.53 L73.49,347.53 L73.50,348.52 L73.50,349.52 L73.50,350.52 L73.50,351.52 L73.50,352.52 L73.50,353.51 L73.50,354.51 L73.50,355.51 L73.50,356.51 L73.50,357.51 L73.50,358.51 L73.50,359.50 L73.50,360.50 L73.50,361.50 L73.50,362.00 M73.50,362.00 L73.52,360.80 L73.54,359.61 L73.57,358.42 L73.59,357.23 L73.61,356.04 L73.63,354.85 L73.65,353.66 L73.68,352.48 L73.70,351.30 L73.72,350.11 L73.74,348.93 L73.76,347.76 L73.79,346.58 L73.81,345.40 L73.83,344.23 L73.85,343.06 L73.87,341.89 L73.90,340.72 L73.92,339.55 L73.94,338.39 L73.96,337.22 L73.98,336.06 L74.01,334.90 L74.03,333.74 L74.05,332.59 L74.07,331.43 L74.09,330.28 L74.12,329.13 L74.14,327.98 L74.16,326.83 L74.18,325.68 L74.20,324.54 L74.23,323.39 L74.25,322.25 L74.27,321.11 L74.29,319.98 L74.31,318.84 L74.34,317.71 L74.36,316.58 L74.38,315.45 L74.40,314.32 L74.42,313.19 L74.45,312.07 L74.47,310.95 L74.49,309.83 L74.51,308.71 L74.53,307.59 L74.56,306.48 L74.58,305.36 L74.60,304.25 L74.62,303.15 L74.64,302.04 L74.67,300.94 L74.69,299.83 L74.71,298.73 L74.73,297.64 L74.75,296.54 L74.78,295.45 L74.80,294.36 L74.82,293.27 L74.84,292.18 L74.86,291.09 L74.89,290.01 L74.91,288.93 L74.93,287.85 L74.95,286.78 L74.97,285.70 L75.00,284.63 L75.02,283.57 L75.04,282.50 L75.06,281.43 L75.08,280.37 L75.11,279.31 L75.13,278.26 L75.15,277.20 L75.17,276.15 L75.19,275.10 L75.22,274.06 L75.24,273.01 L75.26,271.97 L75.28,270.93 L75.31,269.90 L75.33,268.86 L75.35,267.83 L75.37,266.80 L75.39,265.78 L75.42,264.76 L75.44,263.74 L75.46,262.72 L75.48,261.71 L75.50,260.70 L75.53,259.69 L75.55,258.68 L75.57,257.68 L75.59,256.68 L75.61,255.69 L75.64,254.69 L75.66,253.71 L75.68,252.72 L75.70,251.74 L75.72,250.76 L75.75,249.78 L75.77,248.81 L75.79,247.84 L75.81,246.87 L75.83,245.91 L75.86,244.95 L75.88,244.00 L75.90,243.05 L75.92,242.10 L75.94,241.16 L75.97,240.22 L75.99,239.28 L76.01,238.35 L76.03,237.42 L76.05,236.50 L76.08,235.58 L76.10,234.67 L76.12,233.76 L76.14,232.85 L76.16,231.95 L76.19,231.05 L76.21,230.16 L76.23,229.28 L76.25,228.40 L76.27,227.52 L76.30,226.65 L76.32,225.78 L76.34,224.92 L76.36,224.07 L76.38,223.22 L76.41,222.38 L76.43,221.54 L76.45,220.71 L76.47,219.89 L76.49,219.07 L76.52,218.27 L76.54,217.46 L76.56,216.67 L76.58,215.88 L76.60,215.11 L76.63,214.34 L76.65,213.58 L76.67,212.83 L76.69,212.08 L76.71,211.35 L76.74,210.63 L76.76,209.93 L76.79,208.89 L76.82,207.89 L76.86,206.92 L76.89,206.00 L76.92,205.13 L76.96,204.33 L77.00,203.50 L77.24,204.16 L77.42,204.87 L77.59,205.67 L77.77,206.55 L77.95,207.50 L78.13,208.50 L78.25,209.20 L78.37,209.91 L78.49,210.64 L78.61,211.40 L78.73,212.16 L78.84,212.95 L78.96,213.75 L79.08,214.56 L79.20,215.39 L79.32,216.24 L79.44,217.09 L79.56,217.96 L79.68,218.84 L79.80,219.73 L79.92,220.63 L80.03,221.55 L80.15,222.47 L80.27,223.41 L80.39,224.36 L80.51,225.31 L80.63,226.28 L80.75,227.26 L80.87,228.24 L80.99,229.23 L81.11,230.24 L81.22,231.25 L81.34,232.27 L81.46,233.30 L81.58,234.34 L81.70,235.38 L81.82,236.43 L81.94,237.50 L82.06,238.56 L82.18,239.64 L82.29,240.72 L82.41,241.82 L82.53,242.91 L82.65,244.02 L82.77,245.13 L82.89,246.25 L83.01,247.38 L83.13,248.51 L83.25,249.65 L83.37,250.79 L83.48,251.95 L83.60,253.11 L83.72,254.27 L83.84,255.44 L83.96,256.62 L84.08,257.80 L84.20,258.99 L84.32,260.19 L84.44,261.39 L84.56,262.60 L84.67,263.81 L84.79,265.03 L84.91,266.25 L85.03,267.48 L85.15,268.72 L85.27,269.96 L85.39,271.20 L85.51,272.45 L85.63,273.71 L85.75,274.97 L85.86,276.24 L85.98,277.51 L86.10,278.79 L86.22,280.07 L86.34,281.35 L86.40,282.00 M86.40,282.00 L86.53,280.80 L86.66,279.61 L86.79,278.41 L86.92,277.22 L87.05,276.03 L87.18,274.84 L87.31,273.66 L87.44,272.47 L87.57,271.29 L87.70,270.11 L87.83,268.94 L87.96,267.76 L88.09,266.59 L88.22,265.42 L88.35,264.25 L88.48,263.09 L88.61,261.92 L88.74,260.76 L88.87,259.60 L89.00,258.45 L89.13,257.29 L89.26,256.14 L89.39,254.99 L89.53,253.85 L89.66,252.70 L89.79,251.56 L89.92,250.42 L90.05,249.29 L90.18,248.15 L90.31,247.02 L90.44,245.89 L90.57,244.76 L90.70,243.64 L90.83,242.52 L90.96,241.40 L91.09,240.29 L91.22,239.17 L91.35,238.06 L91.48,236.95 L91.61,235.85 L91.74,234.75 L91.87,233.65 L92.00,232.55 L92.13,231.46 L92.26,230.37 L92.39,229.28 L92.52,228.20 L92.65,227.12 L92.78,226.04 L92.91,224.97 L93.04,223.89 L93.17,222.83 L93.30,221.76 L93.43,220.70 L93.56,219.64 L93.69,218.58 L93.82,217.53 L93.95,216.49 L94.08,215.44 L94.21,214.40 L94.34,213.36 L94.47,212.33 L94.60,211.30 L94.73,210.27 L94.86,209.25 L94.99,208.23 L95.12,207.22 L95.25,206.21 L95.38,205.20 L95.51,204.20 L95.65,203.20 L95.78,202.20 L95.91,201.21 L96.04,200.23 L96.17,199.25 L96.30,198.27 L96.43,197.30 L96.56,196.34 L96.69,195.37 L96.82,194.42 L96.95,193.47 L97.08,192.52 L97.21,191.58 L97.34,190.64 L97.47,189.71 L97.60,188.79 L97.73,187.87 L97.86,186.96 L97.99,186.05 L98.12,185.15 L98.25,184.26 L98.38,183.37 L98.51,182.49 L98.64,181.62 L98.77,180.75 L98.90,179.89 L99.03,179.05 L99.16,178.20 L99.29,177.37 L99.42,176.55 L99.55,175.73 L99.68,174.93 L99.81,174.13 L99.94,173.35 L100.07,172.58 L100.20,171.82 L100.33,171.07 L100.46,170.34 L100.59,169.62 L100.72,168.92 L100.92,167.91 L101.11,166.94 L101.31,166.04 L101.50,165.23 L101.70,164.60 L101.98,165.31 L102.14,166.18 L102.26,167.08 L102.35,167.87 L102.45,168.76 L102.54,169.74 L102.60,170.45 L102.66,171.19 L102.73,171.98 L102.79,172.80 L102.85,173.67 L102.91,174.57 L102.98,175.50 L103.04,176.48 L103.10,177.49 L103.16,178.54 L103.22,179.63 L103.29,180.75 L103.35,181.91 L103.41,183.10 L103.47,184.33 L103.54,185.60 L103.60,186.89 L103.66,188.23 L103.72,189.60 L103.78,191.00 L103.82,191.71 L103.85,192.43 L103.88,193.16 L103.91,193.90 L103.94,194.65 L103.97,195.40 L104.00,196.17 L104.03,196.94 L104.06,197.72 L104.10,198.51 L104.13,199.30 L104.16,200.11 L104.19,200.92 L104.22,201.74 L104.25,202.57 L104.28,203.41 L104.31,204.26 L104.34,205.11 L104.38,205.97 L104.41,206.84 L104.44,207.72 L104.47,208.61 L104.50,209.50 M104.50,209.50 L104.53,208.61 L104.56,207.73 L104.58,206.86 L104.61,206.00 L104.64,205.15 L104.67,204.31 L104.70,203.48 L104.72,202.66 L104.75,201.86 L104.78,201.06 L104.81,200.28 L104.84,199.50 L104.86,198.74 L104.89,197.99 L104.92,197.25 L104.95,196.52 L104.97,195.80 L105.00,195.09 L105.06,193.71 L105.11,192.37 L105.17,191.08 L105.23,189.84 L105.28,188.64 L105.34,187.49 L105.39,186.39 L105.45,185.34 L105.51,184.33 L105.56,183.37 L105.62,182.46 L105.67,181.61 L105.73,180.80 L105.79,180.05 L105.84,179.35 L105.93,178.40 L106.01,177.57 L106.12,176.68 L106.26,175.91 L106.37,175.62 L106.40,175.60 L106.47,175.62 L106.84,176.41 L107.07,177.32 L107.21,178.07 L107.36,178.92 L107.51,179.84 L107.66,180.81 L107.81,181.82 L107.95,182.84 L108.10,183.86 L108.25,184.85 L108.40,185.81 L108.55,186.70 L108.69,187.53 L108.84,188.36 L108.99,189.20 L109.14,190.04 L109.29,190.90 L109.44,191.75 L109.58,192.62 L109.73,193.49 L109.88,194.37 L110.03,195.25 L110.18,196.14 L110.32,197.03 L110.47,197.93 L110.62,198.83 L110.77,199.74 L110.92,200.65 L111.06,201.56 L111.21,202.48 L111.36,203.41 L111.51,204.33 L111.66,205.26 L111.80,206.20 L111.95,207.13 L112.10,208.07 L112.25,209.02 L112.40,209.96 L112.54,210.91 L112.69,211.86 L112.84,212.81 L112.99,213.76 L113.14,214.71 L113.28,215.67 L113.43,216.62 L113.58,217.58 L113.73,218.54 L113.88,219.50 L114.02,220.46 L114.17,221.42 L114.32,222.38 L114.47,223.35 L114.62,224.32 L114.76,225.29 L114.91,226.26 L115.06,227.24 L115.21,228.22 L115.36,229.20 L115.51,230.19 L115.65,231.18 L115.80,232.17 L115.95,233.17 L116.10,234.17 L116.25,235.17 L116.39,236.18 L116.54,237.19 L116.69,238.20 L116.84,239.22 L116.99,240.25 L117.13,241.28 L117.28,242.31 L117.43,243.35 L117.58,244.39 L117.73,245.44 L117.87,246.49 L118.02,247.55 L118.17,248.61 L118.32,249.68 L118.47,250.75 L118.61,251.83 L118.76,252.92 L118.91,254.01 L119.06,255.10 L119.21,256.20 L119.35,257.30 L119.50,258.41 L119.65,259.53 L119.80,260.65 L119.95,261.77 L120.09,262.90 L120.24,264.04 L120.39,265.18 L120.54,266.33 L120.69,267.48 L120.84,268.64 L120.98,269.81 L121.13,270.98 L121.28,272.16 L121.43,273.35 L121.58,274.54 L121.72,275.74 L121.87,276.95 L122.02,278.17 L122.17,279.39 L122.32,280.62 L122.46,281.85 L122.61,283.10 L122.76,284.37 L122.91,285.66 L123.06,286.98 L123.20,288.31 L123.35,289.65 L123.50,291.00 M123.50,291.00 L123.72,289.66 L123.94,288.32 L124.15,286.99 L124.37,285.66 L124.59,284.33 L124.81,283.01 L125.03,281.70 L125.24,280.39 L125.46,279.08 L125.68,277.78 L125.90,276.48 L126.12,275.19 L126.34,273.90 L126.55,272.61 L126.77,271.34 L126.99,270.06 L127.21,268.79 L127.43,267.53 L127.64,266.27 L127.86,265.01 L128.08,263.76 L128.30,262.51 L128.52,261.27 L128.73,260.04 L128.95,258.81 L129.17,257.58 L129.39,256.36 L129.61,255.14 L129.82,253.93 L130.04,252.73 L130.26,251.53 L130.48,250.33 L130.70,249.14 L130.92,247.96 L131.13,246.78 L131.35,245.60 L131.57,244.44 L131.79,243.27 L132.01,242.12 L132.22,240.97 L132.44,239.82 L132.66,238.68 L132.88,237.55 L133.10,236.42 L133.31,235.30 L133.53,234.18 L133.75,233.07 L133.97,231.97 L134.19,230.87 L134.40,229.78 L134.62,228.69 L134.84,227.61 L135.06,226.54 L135.28,225.48 L135.50,224.42 L135.71,223.36 L135.93,222.32 L136.15,221.28 L136.37,220.25 L136.59,219.22 L136.80,218.20 L137.02,217.19 L137.24,216.19 L137.46,215.19 L137.68,214.20 L137.89,213.22 L138.11,212.25 L138.33,211.28 L138.55,210.32 L138.77,209.37 L138.99,208.43 L139.20,207.50 L139.42,206.57 L139.64,205.66 L139.86,204.75 L140.08,203.85 L140.29,202.96 L140.51,202.08 L140.73,201.21 L140.95,200.35 L141.17,199.50 L141.38,198.66 L141.60,197.82 L141.82,197.00 L142.04,196.19 L142.26,195.40 L142.47,194.61 L142.69,193.83 L142.91,193.07 L143.13,192.32 L143.35,191.58 L143.57,190.85 L143.78,190.14 L144.00,189.44 L144.22,188.76 L144.44,188.09 L144.76,187.12 L145.09,186.19 L145.42,185.29 L145.75,184.45 L146.07,183.65 L146.40,182.92 L146.73,182.25 L147.16,181.49 L147.60,181.00 L148.23,181.44 L148.63,182.16 L148.95,182.98 L149.18,183.74 L149.42,184.62 L149.66,185.63 L149.82,186.37 L149.97,187.16 L150.13,188.01 L150.29,188.92 L150.45,189.88 L150.61,190.89 L150.77,191.96 L150.93,193.08 L151.08,194.26 L151.24,195.49 L151.40,196.78 L151.56,198.12 L151.72,199.52 L151.80,200.24 L151.88,200.97 L151.95,201.72 L152.03,202.48 L152.11,203.25 L152.19,204.04 L152.27,204.84 L152.35,205.65 L152.43,206.48 L152.51,207.32 L152.59,208.18 L152.67,209.05 L152.75,209.93 L152.83,210.83 L152.90,211.74 L152.98,212.67 L153.06,213.60 L153.14,214.56 L153.22,215.52 L153.30,216.50 M153.30,216.50 L153.39,215.57 L153.47,214.64 L153.56,213.73 L153.65,212.83 L153.73,211.94 L153.82,211.06 L153.91,210.18 L153.99,209.32 L154.08,208.47 L154.17,207.63 L154.25,206.80 L154.34,205.98 L154.43,205.18 L154.51,204.38 L154.60,203.59 L154.69,202.81 L154.77,202.05 L154.86,201.29 L154.95,200.54 L155.03,199.81 L155.12,199.09 L155.20,198.37 L155.29,197.67 L155.46,196.29 L155.64,194.96 L155.81,193.67 L155.98,192.43 L156.16,191.23 L156.33,190.07 L156.50,188.95 L156.68,187.88 L156.85,186.85 L157.02,185.87 L157.20,184.93 L157.37,184.03 L157.54,183.18 L157.72,182.38 L157.89,181.62 L158.06,180.91 L158.32,179.92 L158.58,179.04 L158.84,178.27 L159.10,177.61 L159.45,176.89 L159.88,176.28 L160.65,176.03 L161.40,176.43 L162.15,177.21 L162.65,177.90 L163.15,178.67 L163.65,179.51 L164.15,180.37 L164.65,181.22 L165.15,182.04 L165.65,182.92 L166.15,183.88 L166.64,184.91 L167.14,186.01 L167.64,187.17 L168.14,188.36 L168.64,189.59 L169.14,190.84 L169.64,192.10 L170.14,193.36 L170.39,194.02 L170.64,194.70 L170.89,195.40 L171.14,196.12 L171.39,196.85 L171.64,197.59 L171.89,198.34 L172.14,199.09 L172.39,199.84 L172.64,200.59 L172.89,201.33 L173.14,202.07 L173.39,202.79 L173.64,203.49 L173.89,204.18 L174.14,204.84 L174.64,206.12 L175.14,207.36 L175.64,208.57 L176.14,209.76 L176.64,210.93 L177.14,212.08 L177.64,213.22 L178.14,214.34 L178.63,215.46 L179.13,216.57 L179.63,217.68 L180.13,218.80 L180.63,219.91 L181.13,221.02 L181.63,222.13 L182.13,223.24 L182.63,224.34 L183.13,225.44 L183.63,226.53 L184.13,227.63 L184.63,228.71 L185.13,229.80 L185.63,230.88 L186.13,231.95 L186.63,233.02 L187.13,234.09 L187.63,235.15 L188.13,236.21 L188.63,237.26 L189.13,238.30 L189.63,239.34 L190.12,240.38 L190.62,241.41 L191.12,242.43 L191.62,243.45 L192.12,244.46 L192.62,245.46 L193.12,246.46 L193.62,247.45 L194.12,248.44 L194.62,249.42 L195.12,250.41 L195.62,251.40 L196.12,252.38 L196.62,253.36 L197.12,254.34 L197.62,255.32 L198.12,256.28 L198.62,257.24 L199.12,258.20 L199.62,259.14 L200.12,260.07 L200.62,260.98 L201.12,261.89 L201.62,262.78 L202.11,263.65 L202.61,264.50 L203.11,265.34 L203.61,266.16 L204.11,266.95 L204.61,267.73 L205.11,268.49 L205.61,269.26 L206.11,270.01 L206.61,270.76 L207.11,271.50 L207.61,272.24 L208.11,272.97 L208.61,273.69 L209.11,274.40 L209.61,275.11 L210.11,275.80 L210.61,276.49 L211.11,277.18 L211.61,277.85 L212.11,278.51 L212.61,279.17 L213.11,279.81 L213.61,280.45 L214.10,281.07 L214.60,281.68 L215.10,282.29 L215.60,282.88 L216.10,283.46 L216.60,284.03 L217.10,284.59 L217.60,285.14 L218.10,285.67 L218.60,286.19 L219.10,286.70 L219.60,287.20 L220.10,286.66 L220.60,286.12 L221.10,285.58 L221.60,285.05 L222.10,284.51 L222.60,283.98 L223.10,283.44 L223.60,282.91 L224.10,282.38 L224.60,281.85 L225.10,281.31 L225.60,280.78 L226.10,280.26 L226.60,279.73 L227.10,279.20 L227.60,278.67 L228.10,278.15 L228.60,277.62 L229.10,277.10 L229.60,276.58 L230.10,276.06 L230.60,275.54 L231.10,275.02 L231.60,274.50 L232.10,273.98 L232.60,273.46 L233.10,272.95 L233.60,272.43 L234.10,271.92 L234.60,271.40 L235.10,270.89 L235.60,270.38 L236.10,269.86 L236.60,269.35 L237.10,268.84 L237.60,268.33 L238.10,267.82 L238.60,267.31 L239.10,266.80 L239.60,266.29 L240.10,265.78 L240.60,265.27 L241.10,264.76 L241.60,264.26 L242.10,263.75 L242.60,263.25 L243.10,262.75 L243.60,262.25 L244.10,261.75 L244.60,261.25 L245.10,260.76 L245.60,260.27 L246.10,259.78 L247.10,258.80 L248.10,257.83 L249.10,256.87 L250.10,255.93 L251.10,254.98 L252.10,254.04 L253.10,253.11 L254.10,252.18 L255.10,251.25 L256.10,250.33 L257.10,249.42 L258.10,248.52 L259.10,247.63 L260.10,246.75 L261.10,245.87 L262.10,245.01 L263.10,244.17 L264.10,243.33 L265.10,242.51 L266.10,241.69 L267.10,240.88 L268.10,240.07 L269.10,239.27 L270.10,238.48 L271.10,237.70 L272.10,236.93 L273.10,236.17 L274.10,235.42 L275.10,234.69 L276.10,233.97 L277.10,233.26 L278.10,232.57 L279.10,231.90 L280.10,231.24 L281.10,230.59 L282.10,229.96 L283.10,229.33 L284.10,228.72 L285.10,228.11 L286.10,227.52 L287.10,226.93 L288.10,226.35 L289.10,225.79 L290.10,225.23 L291.10,224.69 L292.10,224.15 L293.10,223.62 L294.10,223.10 L295.10,222.59 L296.10,222.10 L297.10,221.61 L298.10,221.13 L299.10,220.66 L300.10,220.19 L301.10,219.74 L302.10,219.29 L303.10,218.84 L304.10,218.40 L305.10,217.96 L306.10,217.53 L307.10,217.10 L308.10,216.67 L309.10,216.24 L310.10,215.82 L311.10,215.39 L312.10,214.97 L313.10,214.55 L314.10,214.13 L315.10,213.72 L316.10,213.31 L317.10,212.90 L318.10,212.50 L319.10,212.10 L320.10,211.71 L321.10,211.33 L322.10,210.94 L323.10,210.57 L324.10,210.20 L325.10,209.84 L326.10,209.47 L327.10,209.12 L328.10,208.76 L329.10,208.41 L330.10,208.06 L331.10,207.72 L332.10,207.39 L333.10,207.05 L334.10,206.72 L335.10,206.40 L336.10,206.09 L337.10,205.77 L338.10,205.47 L339.10,205.17 L340.10,204.88 L341.10,204.59 L342.10,204.31 L343.10,204.03 L344.10,203.75 L345.10,203.48 L346.10,203.21 L347.10,202.95 L348.10,202.69 L349.10,202.44 L350.10,202.19 L351.10,201.94 L352.10,201.69 L353.10,201.45 L354.10,201.21 L355.10,200.96 L356.10,200.72 L357.10,200.48 L358.10,200.24 L359.10,199.99 L360.10,199.75 L361.10,199.51 L362.10,199.27 L363.10,199.03 L364.10,198.79 L365.10,198.55 L366.10,198.31 L367.10,198.07 L368.10,197.84 L369.10,197.60 L370.10,197.37 L371.10,197.14 L372.10,196.92 L373.10,196.69 L374.10,196.47 L375.10,196.25 L376.10,196.03 L377.10,195.82 L378.10,195.60 L379.10,195.40 L380.10,195.19 L381.10,194.99 L382.10,194.79 L383.10,194.60 L384.10,194.41 L385.10,194.23 L386.10,194.04 L387.10,193.87 L388.10,193.70 L389.10,193.53 L390.10,193.37 L391.10,193.21 L392.10,193.06 L393.10,192.91 L394.10,192.77 L395.10,192.63 L396.10,192.48 L397.10,192.34 L398.10,192.21 L399.10,192.07 L400.10,191.94 L401.10,191.81 L402.10,191.68 L403.10,191.55 L404.10,191.42 L405.10,191.29 L406.10,191.17 L407.10,191.05 L408.10,190.93 L409.10,190.81 L410.10,190.69 L411.10,190.58 L412.10,190.46 L413.10,190.35 L414.10,190.24 L415.10,190.13 L416.10,190.03 L417.10,189.92 L418.10,189.82 L419.10,189.71 L420.10,189.61 L421.10,189.52 L422.10,189.42 L423.10,189.32 L424.10,189.23 L425.10,189.13 L426.10,189.04 L427.10,188.95 L428.10,188.87 L429.10,188.78 L430.10,188.69 L431.10,188.61 L432.10,188.53 L433.10,188.45 L434.10,188.37 L435.10,188.29 L436.10,188.22 L437.10,188.14 L438.10,188.07 L439.10,187.99 L440.10,187.92 L441.10,187.84 L442.10,187.77 L443.10,187.70 L444.10,187.63 L445.10,187.56 L446.10,187.49 L447.10,187.42 L448.10,187.35 L449.10,187.29 L450.10,187.22 L451.10,187.15 L452.10,187.09 L453.10,187.02 L454.10,186.96 L455.10,186.89 L456.10,186.83 L457.10,186.77 L458.10,186.71 L459.10,186.65 L460.10,186.58 L461.10,186.52 L462.10,186.47 L463.10,186.41 L464.10,186.35 L465.10,186.29 L466.10,186.23 L467.10,186.18 L468.10,186.12 L469.10,186.07 L470.10,186.01 L471.10,185.96 L472.10,185.90 L473.10,185.85 L474.10,185.80 L475.10,185.74 L476.10,185.69 L477.10,185.64 L478.10,185.59 L479.10,185.54 L480.10,185.49 L481.10,185.44 L482.10,185.39 L483.10,185.34 L484.10,185.30 L485.10,185.25 L486.10,185.20 L487.10,185.16 L488.10,185.11 L489.10,185.07 L490.10,185.02 L491.10,184.98 L492.10,184.93 L493.10,184.89 L494.10,184.85 L495.10,184.80 L496.10,184.76 L497.10,184.72 L498.10,184.68 L499.10,184.64 L500.10,184.60 L501.10,184.56 L502.10,184.52 L503.10,184.48 L504.10,184.44 L505.10,184.40 L506.10,184.36 L507.10,184.32 L508.10,184.28 L509.10,184.24 L510.10,184.20 L511.10,184.16 L512.10,184.12 L513.10,184.08 L514.10,184.04 L515.10,184.01 L516.10,183.97 L517.10,183.93 L518.10,183.89 L519.10,183.86 L520.10,183.82 L521.10,183.78 L522.10,183.74 L523.10,183.71 L524.10,183.67 L525.10,183.64 L526.10,183.60 L527.10,183.56 L528.10,183.53 L529.10,183.49 L530.10,183.46 L531.10,183.43 L532.10,183.39 L533.10,183.36 L534.10,183.32 L535.10,183.29 L536.10,183.26 L537.10,183.22 L538.10,183.19 L539.10,183.16 L540.10,183.13 L541.10,183.10 L542.10,183.07 L543.10,183.03 L544.10,183.00 L545.10,182.97 L546.10,182.94 L547.10,182.91 L548.10,182.88 L549.10,182.86 L550.10,182.83 L551.10,182.80 L552.10,182.77 L553.10,182.74 L554.10,182.72 L555.10,182.69 L556.10,182.66 L557.10,182.64 L558.10,182.61 L559.10,182.59 L560.10,182.56 L561.10,182.54 L562.10,182.51 L563.10,182.49 L564.10,182.47 L565.10,182.44 L566.10,182.42 L567.10,182.40 L568.10,182.38 L569.10,182.36 L570.10,182.34 L571.10,182.32 L572.10,182.30 L573.10,182.28 L574.10,182.26 L575.10,182.24 L576.10,182.22 L577.10,182.21 L577.50,182.20" stroke="#e00000" stroke-width="3.4"/>
<path d="M280.40,233.49 L280.60,234.57 L280.80,235.65 L281.00,236.74 L281.20,237.82 L281.40,238.91 L281.60,240.00 L281.80,241.09 L282.00,242.18 L282.20,243.28 L282.40,244.37 L282.60,245.47 L282.80,246.57 L283.00,247.67 L283.20,248.77 L283.40,249.87 L283.60,250.98 L283.80,252.08 L284.00,253.19 L284.20,254.30 L284.40,255.41 L284.60,256.52 L284.80,257.63 L285.00,258.75 L285.20,259.86 L285.40,260.98 L285.60,262.10 L285.80,263.22 L286.00,264.34 L286.20,265.47 L286.40,266.59 L286.60,267.72 L286.80,268.85 L287.00,269.98 L287.20,271.11 L287.40,272.24 L287.60,273.38 L287.80,274.51 L288.00,275.65 L288.20,276.79 L288.40,277.93 L288.60,279.07 L288.80,280.22 L289.00,281.36 L289.20,282.51 L289.40,283.66 L289.60,284.81 L289.80,285.89 L289.90,285.26 L290.00,284.62 L290.10,283.99 L290.20,283.36 L290.30,282.72 L290.40,282.09 L290.50,281.45 L290.60,280.82 L290.70,280.18 L290.80,279.54 L290.90,278.91 L291.00,278.27 L291.10,277.63 L291.20,276.99 L291.30,276.35 L291.40,275.71 L291.50,275.07 L291.60,274.43 L291.70,273.79 L291.80,273.15 L291.90,272.51 L292.00,271.87 L292.10,271.22 L292.20,270.58 L292.30,269.94 L292.40,269.29 L292.50,268.65 L292.60,268.01 L292.70,267.36 L292.80,266.71 L292.90,266.07 L293.00,265.42 L293.10,264.78 L293.20,264.13 L293.30,263.48 L293.40,262.83 L293.50,262.18 L293.60,261.53 L293.70,260.88 L293.80,260.23 L293.90,259.58 L294.00,258.93 L294.10,258.28 L294.20,257.63 L294.30,256.98 L294.40,256.33 L294.50,255.67 L294.60,255.02 L294.70,254.36 L294.80,253.71 L294.90,253.06 L295.00,252.40 L295.10,251.74 L295.20,251.09 L295.30,250.43 L295.40,249.77 L295.50,249.12 L295.60,248.46 L295.70,247.80 L295.80,247.14 L295.90,246.48 L296.00,245.82 L296.10,245.16 L296.20,244.50 L296.30,243.84 L296.40,243.18 L296.50,242.52 L296.60,241.85 L296.70,241.19 L296.80,240.53 L296.90,239.86 L297.00,239.20 L297.10,238.53 L297.20,237.87 L297.30,237.20 L297.40,236.54 L297.50,235.87 L297.60,235.20 L297.70,234.54 L297.80,233.87 L297.90,233.20 L298.00,232.53 L298.10,231.86 L298.20,231.19 L298.30,230.52 L298.40,229.85 L298.50,229.18 L298.60,228.51 L298.70,227.83 L298.80,227.16 L298.90,226.49 L299.00,225.82 L299.10,225.14 L299.20,224.47 L299.30,223.79 L299.40,223.12 L299.50,222.44 L299.60,221.77 L299.70,221.09 L299.80,220.41 L299.90,219.73 L300.00,219.06 L300.10,218.38 L300.20,217.70 L300.30,217.02 L300.40,216.34 L300.50,215.66 L300.60,214.98 L300.70,214.30 L300.80,213.61 L300.90,212.93 L301.00,212.25 L301.10,211.57 L301.20,210.88 L301.30,210.20 L301.40,209.51 L301.50,208.83 L301.60,208.14 L301.70,207.46 L301.80,206.77 L301.90,206.08 L302.00,205.40 L302.10,204.71 L302.20,204.02 L302.30,203.33 L302.40,202.64 L302.50,201.95 L302.60,201.26 L302.70,200.57 L302.80,199.88 L302.90,199.19 L303.00,198.50 L303.10,197.81 L303.20,197.11 L303.30,196.44 L303.40,195.79 L303.50,195.16 L303.60,194.55 L303.80,193.40 L304.00,192.34 L304.20,191.36 L304.40,190.47 L304.60,189.66 L304.80,188.95 L305.00,188.32 L305.30,187.54 L305.60,186.96 L306.00,186.51 L306.30,186.41 L306.40,186.48 L306.60,187.05 L306.80,188.06 L306.90,188.72 L307.00,189.48 L307.10,190.34 L307.20,191.28 L307.30,192.32 L307.40,193.44 L307.50,194.65 L307.60,195.94 L307.70,197.32 L307.80,198.78 L307.90,200.32 L308.00,201.95 L308.10,203.65 L308.20,205.43 L308.30,207.29 L308.40,209.23 L308.50,211.25 L308.60,213.34 L308.70,215.51 L308.80,217.75 L308.90,220.07 L309.00,222.47 L309.10,224.93 L309.20,227.47 L309.30,230.09 L309.40,228.40 L309.50,226.10 L309.60,223.88 L309.70,221.74 L309.80,219.67 L309.90,217.69 L310.00,215.78 L310.10,213.96 L310.20,212.22 L310.30,210.56 L310.40,208.99 L310.50,207.51 L310.60,206.11 L310.70,204.80 L310.80,203.58 L310.90,202.46 L311.00,201.43 L311.10,200.49 L311.20,199.66 L311.30,198.94 L311.40,198.32 L311.60,197.43 L311.80,197.08 L312.20,197.50 L312.50,198.38 L312.70,199.23 L312.90,200.29 L313.00,200.90 L313.10,201.57 L313.20,202.29 L313.30,203.07 L313.40,203.90 L313.50,204.78 L313.60,205.72 L313.70,206.71 L313.80,207.76 L313.90,208.86 L314.00,209.95 L314.10,211.05 L314.20,212.15 L314.30,213.25 L314.40,214.36 L314.50,215.46 L314.60,216.56 L314.70,217.66 L314.80,218.77 L314.90,219.87 L315.00,220.98 L315.10,222.09 L315.20,223.19 L315.30,224.30 L315.40,225.41 L315.50,226.52 L315.60,227.63 L315.70,228.74 L315.80,229.85 L315.90,230.97 L316.00,232.08 L316.10,233.19 L316.20,234.31 L316.30,235.42 L316.40,236.54 L316.50,237.66 L316.60,238.78 L316.70,239.89 L316.80,241.01 L316.90,242.13 L317.00,243.25 L317.10,244.37 L317.20,245.50 L317.30,246.62 L317.40,247.74 L317.50,248.87 L317.60,249.99 L317.70,251.12 L317.80,252.25 L317.90,253.37 L318.00,254.50 L318.10,255.63 L318.20,256.76 L318.30,257.89 L318.40,259.02 L318.50,260.15 L318.60,261.29 L318.70,262.42 L318.80,263.55 L318.90,264.69 L319.00,265.82 L319.10,266.96 L319.20,268.10 L319.30,269.24 L319.40,270.37 L319.50,271.51 L319.60,272.65 L319.70,273.80 L319.80,274.94 L319.90,276.08 L320.00,277.22 L320.10,278.37 L320.20,279.51 L320.30,280.66 L320.40,281.80 L320.50,282.95 L320.60,284.10 L320.70,285.25 L320.80,286.40 L320.90,287.55 L321.00,288.70 L321.10,289.85 L321.20,291.00 L321.30,292.15 L321.40,293.31 L321.50,294.46 L321.60,295.62 L321.70,296.77 L321.80,296.96 L321.90,295.80 L322.00,294.63 L322.10,293.47 L322.20,292.30 L322.30,291.14 L322.40,289.97 L322.50,288.80 L322.60,287.63 L322.70,286.46 L322.80,285.29 L322.90,284.12 L323.00,282.95 L323.10,281.78 L323.20,280.60 L323.30,279.43 L323.40,278.25 L323.50,277.08 L323.60,275.90 L323.70,274.72 L323.80,273.54 L323.90,272.37 L324.00,271.19 L324.10,270.00 L324.20,268.82 L324.30,267.64 L324.40,266.46 L324.50,265.27 L324.60,264.09 L324.70,262.91 L324.80,261.72 L324.90,260.53 L325.00,259.34 L325.10,258.16 L325.20,256.97 L325.30,255.78 L325.40,254.59 L325.50,253.40 L325.60,252.20 L325.70,251.01 L325.80,249.82 L325.90,248.62 L326.00,247.43 L326.10,246.23 L326.20,245.03 L326.30,243.84 L326.40,242.64 L326.50,241.44 L326.60,240.24 L326.70,239.04 L326.80,237.83 L326.90,236.63 L327.00,235.43 L327.10,234.22 L327.20,233.02 L327.30,231.81 L327.40,230.61 L327.50,229.40 L327.60,228.19 L327.70,226.98 L327.80,225.77 L327.90,224.56 L328.00,223.35 L328.10,222.14 L328.20,220.93 L328.30,219.71 L328.40,218.50 L328.50,217.28 L328.60,216.07 L328.70,214.85 L328.80,213.63 L328.90,212.42 L329.00,211.20 L329.10,209.98 L329.20,208.76 L329.30,207.54 L329.40,206.36 L329.50,205.25 L329.60,204.21 L329.70,203.23 L329.80,202.32 L329.90,201.47 L330.00,200.69 L330.10,199.98 L330.20,199.34 L330.40,198.25 L330.60,197.43 L330.90,196.70 L331.00,196.60 L331.10,196.56 L331.40,197.48 L331.50,198.12 L331.60,198.90 L331.70,199.82 L331.80,200.87 L331.90,202.05 L332.00,203.36 L332.10,204.79 L332.20,206.34 L332.30,208.01 L332.40,209.80 L332.50,211.70 L332.60,213.72 L332.70,215.85 L332.80,218.09 L332.90,220.44 L333.00,222.90 L333.10,225.47 L333.20,228.15 L333.30,228.06 L333.40,225.13 L333.50,222.29 L333.60,219.55 L333.70,216.91 L333.80,214.36 L333.90,211.92 L334.00,209.57 L334.10,207.33 L334.20,205.19 L334.30,203.16 L334.40,201.24 L334.50,199.42 L334.60,197.71 L334.70,196.12 L334.80,194.64 L334.90,193.28 L335.00,192.04 L335.10,190.92 L335.20,189.93 L335.30,189.07 L335.40,188.35 L335.60,187.35 L335.70,187.09 L335.80,187.04 L336.30,187.54 L336.60,188.24 L336.80,188.88 L337.00,189.66 L337.20,190.58 L337.40,191.63 L337.60,192.83 L337.70,193.47 L337.80,194.16 L337.90,194.88 L338.00,195.63 L338.10,196.42 L338.20,197.25 L338.30,198.11 L338.40,198.99 L338.50,199.87 L338.60,200.75 L338.70,201.64 L338.80,202.52 L338.90,203.41 L339.00,204.29 L339.10,205.18 L339.20,206.06 L339.30,206.95 L339.40,207.84 L339.50,208.73 L339.60,209.62 L339.70,210.51 L339.80,211.40 L339.90,212.29 L340.00,213.18 L340.10,214.07 L340.20,214.96 L340.30,215.85 L340.40,216.75 L340.50,217.64 L340.60,218.54 L340.70,219.43 L340.80,220.33 L340.90,221.22 L341.00,222.12 L341.10,223.02 L341.20,223.92 L341.30,224.82 L341.40,225.72 L341.50,226.62 L341.60,227.52 L341.70,228.42 L341.80,229.32 L341.90,230.22 L342.00,231.13 L342.10,232.03 L342.20,232.93 L342.30,233.84 L342.40,234.74 L342.50,235.65 L342.60,236.56 L342.70,237.47 L342.80,238.37 L342.90,239.28 L343.00,240.19 L343.10,241.10 L343.20,242.01 L343.30,242.92 L343.40,243.83 L343.50,244.75 L343.60,245.66 L343.70,246.57 L343.80,247.49 L343.90,248.40 L344.00,249.32 L344.10,250.23 L344.20,251.15 L344.30,252.06 L344.40,252.98 L344.50,253.90 L344.60,254.82 L344.70,255.74 L344.80,256.66 L344.90,257.58 L345.00,258.50 L345.10,259.42 L345.20,260.35 L345.30,261.27 L345.40,262.19 L345.50,263.12 L345.60,264.04 L345.70,264.97 L345.80,265.89 L345.90,266.82 L346.00,267.75 L346.10,268.68 L346.20,269.60 L346.30,270.53 L346.40,271.46 L346.50,272.39 L346.60,273.32 L346.70,274.26 L346.80,275.19 L346.90,276.12 L347.00,277.05 L347.10,277.99 L347.20,278.92 L347.30,279.86 L347.40,280.80 L347.50,281.73 L347.60,282.67 L347.70,283.61 L347.80,284.55 L347.90,285.48 L348.00,286.42 L348.10,287.29 L348.20,286.36 L348.30,285.42 L348.40,284.48 L348.50,283.54 L348.60,282.60 L348.70,281.67 L348.80,280.73 L348.90,279.78 L349.00,278.84 L349.10,277.90 L349.20,276.96 L349.30,276.02 L349.40,275.07 L349.50,274.13 L349.60,273.18 L349.70,272.24 L349.80,271.29 L349.90,270.34 L350.00,269.40 L350.10,268.45 L350.20,267.50 L350.30,266.55 L350.40,265.60 L350.50,264.65 L350.60,263.70 L350.70,262.75 L350.80,261.79 L350.90,260.84 L351.00,259.89 L351.10,258.93 L351.20,257.98 L351.30,257.02 L351.40,256.06 L351.50,255.11 L351.60,254.15 L351.70,253.19 L351.80,252.23 L351.90,251.27 L352.00,250.31 L352.10,249.35 L352.20,248.39 L352.30,247.43 L352.40,246.46 L352.50,245.50 L352.60,244.54 L352.70,243.57 L352.80,242.61 L352.90,241.64 L353.00,240.67 L353.10,239.71 L353.20,238.74 L353.30,237.77 L353.40,236.80 L353.50,235.83 L353.60,234.86 L353.70,233.89 L353.80,232.92 L353.90,231.95 L354.00,230.97 L354.10,230.00 L354.20,229.02 L354.30,228.05 L354.40,227.07 L354.50,226.10 L354.60,225.12 L354.70,224.14 L354.80,223.16 L354.90,222.19 L355.00,221.21 L355.10,220.23 L355.20,219.24 L355.30,218.26 L355.40,217.28 L355.50,216.30 L355.60,215.31 L355.70,214.33 L355.80,213.35 L355.90,212.36 L356.00,211.37 L356.10,210.39 L356.20,209.40 L356.30,208.41 L356.40,207.42 L356.50,206.43 L356.60,205.44 L356.70,204.45 L356.80,203.46 L356.90,202.47 L357.00,201.48 L357.10,200.48 L357.20,199.49 L357.30,198.50 L357.40,197.53 L357.50,196.60 L357.60,195.72 L357.70,194.89 L357.80,194.10 L357.90,193.35 L358.00,192.65 L358.10,191.99 L358.20,191.38 L358.40,190.29 L358.60,189.38 L358.80,188.65 L359.10,187.90 L359.50,187.53 L359.70,188.10 L359.80,188.73 L359.90,189.54 L360.00,190.54 L360.10,191.72 L360.20,193.06 L360.30,194.57 L360.40,196.24 L360.50,198.07 L360.60,200.05 L360.70,202.18 L360.80,204.46 L360.90,206.89 L361.00,209.46 L361.10,212.18 L361.20,215.03 L361.30,218.03 L361.40,221.17 L361.50,224.44 L361.60,227.85 L361.70,225.85 L361.80,222.71 L361.90,219.73 L362.00,216.90 L362.10,214.22 L362.20,211.71 L362.30,209.36 L362.40,207.17 L362.50,205.16 L362.60,203.32 L362.70,201.66 L362.80,200.18 L362.90,198.89 L363.00,197.80 L363.10,196.92 L363.20,196.25 L363.30,195.84 L363.40,195.72 L363.70,196.25 L363.90,197.12 L364.00,197.72 L364.10,198.42 L364.20,199.23 L364.30,200.14 L364.40,201.16 L364.50,202.28 L364.60,203.51 L364.70,204.85 L364.80,206.30 L364.90,207.83 L365.00,209.36 L365.10,210.90 L365.20,212.44 L365.30,213.98 L365.40,215.53 L365.50,217.07 L365.60,218.61 L365.70,220.16 L365.80,221.70 L365.90,223.25 L366.00,224.80 L366.10,226.35 L366.20,227.90 L366.30,229.45 L366.40,231.00 L366.50,232.56 L366.60,234.11 L366.70,235.66 L366.80,237.22 L366.90,238.78 L367.00,240.34 L367.10,241.90 L367.20,243.46 L367.30,245.02 L367.40,246.58 L367.50,248.14 L367.60,249.71 L367.70,251.27 L367.80,252.84 L367.90,254.41 L368.00,255.97 L368.10,257.54 L368.20,259.11 L368.30,260.69 L368.40,262.26 L368.50,263.83 L368.60,265.41 L368.70,266.98 L368.80,268.56 L368.90,270.14 L369.00,271.71 L369.10,273.29 L369.20,274.87 L369.30,276.46 L369.40,278.04 L369.50,279.62 L369.60,281.21 L369.70,282.79 L369.80,284.38 L369.90,285.97 L370.00,287.56 L370.10,289.15 L370.20,290.74 L370.30,292.33 L370.40,293.92 L370.50,295.52 L370.70,293.38 L370.80,291.77 L370.90,290.17 L371.00,288.56 L371.10,286.96 L371.20,285.35 L371.30,283.74 L371.40,282.13 L371.50,280.52 L371.60,278.91 L371.70,277.30 L371.80,275.69 L371.90,274.07 L372.00,272.46 L372.10,270.84 L372.20,269.23 L372.30,267.61 L372.40,265.99 L372.50,264.37 L372.60,262.75 L372.70,261.12 L372.80,259.50 L372.90,257.88 L373.00,256.25 L373.10,254.62 L373.20,253.00 L373.30,251.37 L373.40,249.74 L373.50,248.11 L373.60,246.47 L373.70,244.84 L373.80,243.21 L373.90,241.57 L374.00,239.94 L374.10,238.30 L374.20,236.66 L374.30,235.02 L374.40,233.38 L374.50,231.74 L374.60,230.10 L374.70,228.45 L374.80,226.81 L374.90,225.16 L375.00,223.52 L375.10,221.87 L375.20,220.22 L375.30,218.57 L375.40,216.92 L375.50,215.27 L375.60,213.61 L375.70,211.96 L375.80,210.30 L375.90,208.65 L376.00,206.99 L376.10,205.36 L376.20,203.86 L376.30,202.47 L376.40,201.21 L376.50,200.07 L376.60,199.05 L376.70,198.16 L376.80,197.39 L376.90,196.74 L377.10,195.82 L377.30,195.40 L377.40,195.39 L377.60,196.37 L377.70,197.29 L377.80,198.46 L377.90,199.87 L378.00,201.52 L378.10,203.38 L378.20,205.47 L378.30,207.77 L378.40,210.28 L378.50,213.00 L378.60,215.91 L378.70,219.03 L378.80,222.34 L378.90,225.84 L379.00,226.25 L379.10,222.56 L379.20,219.04 L379.30,215.69 L379.40,212.50 L379.50,209.49 L379.60,206.65 L379.70,203.99 L379.80,201.52 L379.90,199.22 L380.00,197.12 L380.10,195.21 L380.20,193.51 L380.30,192.00 L380.40,190.71 L380.50,189.65 L380.60,188.82 L380.80,187.97 L380.90,187.98 L381.30,188.67 L381.50,189.38 L381.70,190.34 L381.90,191.54 L382.00,192.24 L382.10,193.00 L382.20,193.82 L382.30,194.70 L382.40,195.65 L382.50,196.66 L382.60,197.73 L382.70,198.87 L382.80,200.05 L382.90,201.23 L383.00,202.41 L383.10,203.59 L383.20,204.77 L383.30,205.96 L383.40,207.14 L383.50,208.33 L383.60,209.52 L383.70,210.70 L383.80,211.89 L383.90,213.08 L384.00,214.27 L384.10,215.46 L384.20,216.65 L384.30,217.84 L384.40,219.03 L384.50,220.23 L384.60,221.42 L384.70,222.62 L384.80,223.81 L384.90,225.01 L385.00,226.21 L385.10,227.41 L385.20,228.60 L385.30,229.80 L385.40,231.00 L385.50,232.21 L385.60,233.41 L385.70,234.61 L385.80,235.81 L385.90,237.02 L386.00,238.22 L386.10,239.43 L386.20,240.64 L386.30,241.84 L386.40,243.05 L386.50,244.26 L386.60,245.47 L386.70,246.68 L386.80,247.89 L386.90,249.11 L387.00,250.32 L387.10,251.53 L387.20,252.75 L387.30,253.96 L387.40,255.18 L387.50,256.40 L387.60,257.62 L387.70,258.83 L387.80,260.05 L387.90,261.27 L388.00,262.50 L388.10,263.72 L388.20,264.94 L388.30,266.16 L388.40,267.39 L388.50,268.61 L388.60,269.84 L388.70,271.07 L388.80,272.29 L388.90,273.52 L389.00,274.75 L389.10,275.98 L389.20,277.21 L389.30,278.44 L389.40,279.68 L389.50,280.91 L389.60,282.14 L389.70,283.38 L389.80,284.61 L389.90,285.85 L390.00,287.09 L390.10,288.21 L390.20,286.98 L390.30,285.74 L390.40,284.50 L390.50,283.27 L390.60,282.03 L390.70,280.79 L390.80,279.55 L390.90,278.31 L391.00,277.07 L391.10,275.83 L391.20,274.58 L391.30,273.34 L391.40,272.10 L391.50,270.85 L391.60,269.61 L391.70,268.36 L391.80,267.11 L391.90,265.86 L392.00,264.61 L392.10,263.36 L392.20,262.11 L392.30,260.86 L392.40,259.61 L392.50,258.35 L392.60,257.10 L392.70,255.84 L392.80,254.59 L392.90,253.33 L393.00,252.07 L393.10,250.82 L393.20,249.56 L393.30,248.30 L393.40,247.04 L393.50,245.77 L393.60,244.51 L393.70,243.25 L393.80,241.98 L393.90,240.72 L394.00,239.45 L394.10,238.19 L394.20,236.92 L394.30,235.65 L394.40,234.38 L394.50,233.11 L394.60,231.84 L394.70,230.57 L394.80,229.30 L394.90,228.02 L395.00,226.75 L395.10,225.47 L395.20,224.20 L395.30,222.92 L395.40,221.64 L395.50,220.37 L395.60,219.09 L395.70,217.81 L395.80,216.53 L395.90,215.24 L396.00,213.96 L396.10,212.68 L396.20,211.39 L396.30,210.11 L396.40,208.82 L396.50,207.54 L396.60,206.25 L396.70,204.96 L396.80,203.67 L396.90,202.38 L397.00,201.09 L397.10,199.80 L397.20,198.52 L397.30,197.32 L397.40,196.19 L397.50,195.13 L397.60,194.15 L397.70,193.25 L397.80,192.42 L397.90,191.66 L398.00,190.99 L398.10,190.38 L398.30,189.41 L398.50,188.73 L398.80,188.30 L398.90,188.39 L399.10,189.68 L399.20,190.80 L399.30,192.20 L399.40,193.87 L399.50,195.79 L399.60,197.97 L399.70,200.39 L399.80,203.06 L399.90,205.95 L400.00,209.07 L400.10,212.42 L400.20,216.00 L400.30,219.79 L400.40,223.80 L400.50,226.42 L400.60,222.34 L400.70,218.51 L400.80,214.94 L400.90,211.63 L401.00,208.58 L401.10,205.80 L401.20,203.31 L401.30,201.10 L401.40,199.19 L401.50,197.59 L401.60,196.32 L401.70,195.40 L401.80,194.88 L401.90,194.82 L402.20,195.86 L402.30,196.55 L402.40,197.41 L402.50,198.45 L402.60,199.66 L402.70,201.04 L402.80,202.60 L402.90,204.34 L403.00,206.24 L403.10,208.21 L403.20,210.19 L403.30,212.16 L403.40,214.13 L403.50,216.11 L403.60,218.09 L403.70,220.06 L403.80,222.04 L403.90,224.03 L404.00,226.01 L404.10,227.99 L404.20,229.98 L404.30,231.96 L404.40,233.95 L404.50,235.94 L404.60,237.93 L404.70,239.92 L404.80,241.91 L404.90,243.91 L405.00,245.90 L405.10,247.90 L405.20,249.90 L405.30,251.89 L405.40,253.90 L405.50,255.90 L405.60,257.90 L405.70,259.90 L405.80,261.91 L405.90,263.92 L406.00,265.92 L406.10,267.93 L406.20,269.94 L406.30,271.96 L406.40,273.97 L406.50,275.98 L406.60,278.00 L406.70,280.02 L406.80,282.04 L406.90,284.06 L407.00,286.08 L407.10,288.10 L407.20,290.12 L407.30,292.15 L407.40,294.17 L407.50,294.01 L407.60,291.98 L407.70,289.94 L407.80,287.90 L407.90,285.87 L408.00,283.83 L408.10,281.79 L408.20,279.75 L408.30,277.70 L408.40,275.66 L408.50,273.61 L408.60,271.57 L408.70,269.52 L408.80,267.47 L408.90,265.42 L409.00,263.37 L409.10,261.31 L409.20,259.26 L409.30,257.20 L409.40,255.15 L409.50,253.09 L409.60,251.03 L409.70,248.97 L409.80,246.90 L409.90,244.84 L410.00,242.78 L410.10,240.71 L410.20,238.64 L410.30,236.57 L410.40,234.50 L410.50,232.43 L410.60,230.36 L410.70,228.28 L410.80,226.21 L410.90,224.13 L411.00,222.05 L411.10,219.97 L411.20,217.89 L411.30,215.81 L411.40,213.72 L411.50,211.64 L411.60,209.55 L411.70,207.46 L411.80,205.38 L411.90,203.42 L412.00,201.66 L412.10,200.09 L412.20,198.71 L412.30,197.54 L412.40,196.55 L412.50,195.77 L412.70,194.79 L412.80,194.59 L412.90,194.67 L413.00,195.28 L413.10,196.33 L413.20,197.79 L413.30,199.63 L413.40,201.82 L413.50,204.36 L413.60,207.23 L413.70,210.43 L413.80,213.95 L413.90,217.78 L414.00,221.92 L414.10,226.36 L414.20,222.74 L414.30,218.47 L414.40,214.46 L414.50,210.70 L414.60,207.21 L414.70,203.98 L414.80,201.03 L414.90,198.36 L415.00,195.98 L415.10,193.89 L415.20,192.12 L415.30,190.67 L415.40,189.57 L415.50,188.85 L415.60,188.57 L415.70,188.63 L416.00,189.37 L416.20,190.34 L416.30,190.97 L416.40,191.70 L416.50,192.53 L416.60,193.45 L416.70,194.47 L416.80,195.59 L416.90,196.81 L417.00,198.12 L417.10,199.53 L417.20,201.01 L417.30,202.49 L417.40,203.96 L417.50,205.44 L417.60,206.92 L417.70,208.40 L417.80,209.89 L417.90,211.37 L418.00,212.85 L418.10,214.34 L418.20,215.82 L418.30,217.31 L418.40,218.80 L418.50,220.28 L418.60,221.77 L418.70,223.26 L418.80,224.76 L418.90,226.25 L419.00,227.74 L419.10,229.24 L419.20,230.73 L419.30,232.23 L419.40,233.73 L419.50,235.22 L419.60,236.72 L419.70,238.22 L419.80,239.72 L419.90,241.23 L420.00,242.73 L420.10,244.23 L420.20,245.74 L420.30,247.25 L420.40,248.75 L420.50,250.26 L420.60,251.77 L420.70,253.28 L420.80,254.79 L420.90,256.30 L421.00,257.82 L421.10,259.33 L421.20,260.84 L421.30,262.36 L421.40,263.88 L421.50,265.39 L421.60,266.91 L421.70,268.43 L421.80,269.95 L421.90,271.48 L422.00,273.00 L422.10,274.52 L422.20,276.05 L422.30,277.57 L422.40,279.10 L422.50,280.63 L422.60,282.16 L422.70,283.69 L422.80,285.22 L422.90,286.75 L423.00,288.28 L423.20,286.45 L423.30,284.92 L423.40,283.38 L423.50,281.85 L423.60,280.31 L423.70,278.78 L423.80,277.24 L423.90,275.70 L424.00,274.16 L424.10,272.62 L424.20,271.08 L424.30,269.54 L424.40,268.00 L424.50,266.45 L424.60,264.91 L424.70,263.36 L424.80,261.81 L424.90,260.26 L425.00,258.71 L425.10,257.16 L425.20,255.61 L425.30,254.06 L425.40,252.51 L425.50,250.95 L425.60,249.40 L425.70,247.84 L425.80,246.28 L425.90,244.72 L426.00,243.17 L426.10,241.60 L426.20,240.04 L426.30,238.48 L426.40,236.92 L426.50,235.35 L426.60,233.79 L426.70,232.22 L426.80,230.65 L426.90,229.08 L427.00,227.51 L427.10,225.94 L427.20,224.37 L427.30,222.80 L427.40,221.23 L427.50,219.65 L427.60,218.07 L427.70,216.50 L427.80,214.92 L427.90,213.34 L428.00,211.76 L428.10,210.18 L428.20,208.60 L428.30,207.02 L428.40,205.43 L428.50,203.85 L428.60,202.26 L428.70,200.67 L428.80,199.10 L428.90,197.63 L429.00,196.27 L429.10,195.02 L429.20,193.88 L429.30,192.86 L429.40,191.96 L429.50,191.16 L429.60,190.48 L429.80,189.47 L430.10,188.81 L430.20,188.93 L430.30,189.59 L430.40,190.72 L430.50,192.26 L430.60,194.20 L430.70,196.52 L430.80,199.19 L430.90,202.21 L431.00,205.57 L431.10,209.26 L431.20,213.28 L431.30,217.62 L431.40,222.27 L431.50,225.45 L431.60,220.54 L431.70,216.01 L431.80,211.86 L431.90,208.11 L432.00,204.75 L432.10,201.81 L432.20,199.30 L432.30,197.25 L432.40,195.67 L432.50,194.62 L432.60,194.19 L432.90,195.32 L433.00,196.21 L433.10,197.36 L433.20,198.76 L433.30,200.43 L433.40,202.35 L433.50,204.54 L433.60,206.92 L433.70,209.32 L433.80,211.73 L433.90,214.13 L434.00,216.54 L434.10,218.95 L434.20,221.36 L434.30,223.77 L434.40,226.18 L434.50,228.60 L434.60,231.01 L434.70,233.43 L434.80,235.85 L434.90,238.27 L435.00,240.69 L435.10,243.11 L435.20,245.54 L435.30,247.97 L435.40,250.40 L435.50,252.83 L435.60,255.26 L435.70,257.69 L435.80,260.12 L435.90,262.56 L436.00,265.00 L436.10,267.44 L436.20,269.88 L436.30,272.32 L436.40,274.77 L436.50,277.21 L436.60,279.66 L436.70,282.11 L436.80,284.56 L436.90,287.01 L437.00,289.46 L437.10,291.92 L437.20,294.38 L437.30,292.12 L437.40,289.65 L437.50,287.19 L437.60,284.72 L437.70,282.25 L437.80,279.78 L437.90,277.31 L438.00,274.84 L438.10,272.36 L438.20,269.89 L438.30,267.41 L438.40,264.93 L438.50,262.45 L438.60,259.96 L438.70,257.48 L438.80,254.99 L438.90,252.51 L439.00,250.02 L439.10,247.53 L439.20,245.03 L439.30,242.54 L439.40,240.05 L439.50,237.55 L439.60,235.05 L439.70,232.55 L439.80,230.05 L439.90,227.54 L440.00,225.04 L440.10,222.53 L440.20,220.02 L440.30,217.51 L440.40,215.00 L440.50,212.49 L440.60,209.97 L440.70,207.46 L440.80,204.94 L440.90,202.59 L441.00,200.53 L441.10,198.75 L441.20,197.25 L441.30,196.04 L441.40,195.11 L441.50,194.47 L441.60,194.11 L441.70,194.08 L441.80,194.74 L441.90,196.05 L442.00,197.94 L442.10,200.36 L442.20,203.28 L442.30,206.68 L442.40,210.56 L442.50,214.89 L442.60,219.66 L442.70,224.88 L442.80,221.96 L442.90,217.03 L443.00,212.45 L443.10,208.23 L443.20,204.39 L443.30,200.93 L443.40,197.87 L443.50,195.21 L443.60,192.98 L443.70,191.20 L443.80,189.90 L443.90,189.14 L444.00,189.00 L444.30,189.80 L444.50,191.03 L444.60,191.86 L444.70,192.82 L444.80,193.93 L444.90,195.17 L445.00,196.56 L445.10,198.08 L445.20,199.75 L445.30,201.52 L445.40,203.29 L445.50,205.06 L445.60,206.83 L445.70,208.61 L445.80,210.38 L445.90,212.16 L446.00,213.94 L446.10,215.72 L446.20,217.50 L446.30,219.28 L446.40,221.06 L446.50,222.85 L446.60,224.63 L446.70,226.42 L446.80,228.21 L446.90,230.00 L447.00,231.79 L447.10,233.58 L447.20,235.37 L447.30,237.16 L447.40,238.96 L447.50,240.75 L447.60,242.55 L447.70,244.35 L447.80,246.15 L447.90,247.95 L448.00,249.75 L448.10,251.55 L448.20,253.35 L448.30,255.16 L448.40,256.97 L448.50,258.77 L448.60,260.58 L448.70,262.39 L448.80,264.20 L448.90,266.01 L449.00,267.83 L449.10,269.64 L449.20,271.46 L449.30,273.27 L449.40,275.09 L449.50,276.91 L449.60,278.73 L449.70,280.55 L449.80,282.37 L449.90,284.20 L450.00,286.02 L450.10,287.85 L450.20,288.96 L450.30,287.14 L450.40,285.31 L450.50,283.48 L450.60,281.65 L450.70,279.82 L450.80,277.99 L450.90,276.16 L451.00,274.32 L451.10,272.49 L451.20,270.65 L451.30,268.81 L451.40,266.98 L451.50,265.14 L451.60,263.29 L451.70,261.45 L451.80,259.61 L451.90,257.76 L452.00,255.92 L452.10,254.07 L452.20,252.22 L452.30,250.37 L452.40,248.52 L452.50,246.67 L452.60,244.82 L452.70,242.96 L452.80,241.11 L452.90,239.25 L453.00,237.39 L453.10,235.53 L453.20,233.67 L453.30,231.81 L453.40,229.95 L453.50,228.09 L453.60,226.22 L453.70,224.35 L453.80,222.49 L453.90,220.62 L454.00,218.75 L454.10,216.88 L454.20,215.00 L454.30,213.13 L454.40,211.26 L454.50,209.38 L454.60,207.50 L454.70,205.62 L454.80,203.74 L454.90,201.86 L455.00,199.98 L455.10,198.20 L455.20,196.58 L455.30,195.12 L455.40,193.82 L455.50,192.67 L455.60,191.69 L455.70,190.86 L455.80,190.20 L456.00,189.35 L456.10,189.17 L456.20,189.21 L456.30,189.95 L456.40,191.32 L456.50,193.24 L456.60,195.70 L456.70,198.65 L456.80,202.08 L456.90,205.97 L457.00,210.31 L457.10,215.09 L457.20,220.30 L457.30,225.57 L457.40,219.79 L457.50,214.52 L457.60,209.79 L457.70,205.61 L457.80,202.00 L457.90,198.98 L458.00,196.59 L458.10,194.88 L458.20,193.91 L458.30,193.83 L458.50,194.93 L458.60,196.02 L458.70,197.46 L458.80,199.26 L458.90,201.43 L459.00,203.95 L459.10,206.76 L459.20,209.59 L459.30,212.42 L459.40,215.26 L459.50,218.09 L459.60,220.93 L459.70,223.77 L459.80,226.61 L459.90,229.46 L460.00,232.30 L460.10,235.15 L460.20,238.00 L460.30,240.85 L460.40,243.70 L460.50,246.56 L460.60,249.41 L460.70,252.27 L460.80,255.13 L460.90,258.00 L461.00,260.86 L461.10,263.73 L461.20,266.59 L461.30,269.46 L461.40,272.33 L461.50,275.21 L461.60,278.08 L461.70,280.96 L461.80,283.84 L461.90,286.72 L462.00,289.60 L462.10,292.48 L462.20,292.74 L462.30,289.85 L462.40,286.95 L462.50,284.06 L462.60,281.16 L462.70,278.26 L462.80,275.36 L462.90,272.46 L463.00,269.56 L463.10,266.65 L463.20,263.74 L463.30,260.83 L463.40,257.92 L463.50,255.01 L463.60,252.10 L463.70,249.18 L463.80,246.26 L463.90,243.34 L464.00,240.42 L464.10,237.49 L464.20,234.56 L464.30,231.64 L464.40,228.71 L464.50,225.77 L464.60,222.84 L464.70,219.90 L464.80,216.97 L464.90,214.03 L465.00,211.09 L465.10,208.14 L465.20,205.20 L465.30,202.40 L465.40,199.99 L465.50,197.96 L465.60,196.33 L465.70,195.08 L465.80,194.23 L465.90,193.76 L466.00,193.75 L466.10,194.69 L466.20,196.47 L466.30,199.00 L466.40,202.23 L466.50,206.12 L466.60,210.65 L466.70,215.80 L466.80,221.55 L466.90,223.42 L467.00,217.66 L467.10,212.38 L467.20,207.58 L467.30,203.28 L467.40,199.50 L467.50,196.25 L467.60,193.57 L467.70,191.47 L467.80,190.02 L467.90,189.30 L468.00,189.32 L468.20,189.99 L468.30,190.61 L468.40,191.42 L468.50,192.42 L468.60,193.60 L468.70,194.98 L468.80,196.55 L468.90,198.31 L469.00,200.27 L469.10,202.33 L469.20,204.39 L469.30,206.46 L469.40,208.53 L469.50,210.60 L469.60,212.67 L469.70,214.74 L469.80,216.81 L469.90,218.89 L470.00,220.96 L470.10,223.04 L470.20,225.12 L470.30,227.20 L470.40,229.28 L470.50,231.36 L470.60,233.45 L470.70,235.53 L470.80,237.62 L470.90,239.71 L471.00,241.80 L471.10,243.89 L471.20,245.98 L471.30,248.07 L471.40,250.17 L471.50,252.26 L471.60,254.36 L471.70,256.46 L471.80,258.56 L471.90,260.66 L472.00,262.76 L472.10,264.87 L472.20,266.97 L472.30,269.08 L472.40,271.19 L472.50,273.30 L472.60,275.41 L472.70,277.52 L472.80,279.63 L472.90,281.75 L473.00,283.87 L473.10,285.98 L473.20,288.10 L473.30,288.98 L473.40,286.86 L473.50,284.74 L473.60,282.62 L473.70,280.49 L473.80,278.37 L473.90,276.24 L474.00,274.11 L474.10,271.98 L474.20,269.85 L474.30,267.72 L474.40,265.59 L474.50,263.45 L474.60,261.32 L474.70,259.18 L474.80,257.04 L474.90,254.90 L475.00,252.76 L475.10,250.61 L475.20,248.47 L475.30,246.32 L475.40,244.18 L475.50,242.03 L475.60,239.88 L475.70,237.73 L475.80,235.57 L475.90,233.42 L476.00,231.26 L476.10,229.11 L476.20,226.95 L476.30,224.79 L476.40,222.63 L476.50,220.46 L476.60,218.30 L476.70,216.13 L476.80,213.97 L476.90,211.80 L477.00,209.63 L477.10,207.46 L477.20,205.29 L477.30,203.11 L477.40,200.94 L477.50,198.83 L477.60,196.93 L477.70,195.24 L477.80,193.76 L477.90,192.50 L478.00,191.45 L478.10,190.61 L478.20,189.98 L478.40,189.38 L478.60,190.73 L478.70,192.63 L478.80,195.24 L478.90,198.51 L479.00,202.41 L479.10,206.90 L479.20,211.99 L479.30,217.64 L479.40,223.85 L479.50,220.21 L479.60,214.13 L479.70,208.75 L479.80,204.10 L479.90,200.22 L480.00,197.14 L480.10,194.92 L480.20,193.68 L480.30,193.57 L480.50,195.03 L480.60,196.47 L480.70,198.38 L480.80,200.77 L480.90,203.64 L481.00,206.87 L481.10,210.13 L481.20,213.39 L481.30,216.66 L481.40,219.92 L481.50,223.19 L481.60,226.46 L481.70,229.73 L481.80,233.00 L481.90,236.28 L482.00,239.56 L482.10,242.84 L482.20,246.12 L482.30,249.41 L482.40,252.69 L482.50,255.98 L482.60,259.27 L482.70,262.56 L482.80,265.86 L482.90,269.16 L483.00,272.46 L483.10,275.76 L483.20,279.06 L483.30,282.37 L483.40,285.67 L483.50,288.98 L483.60,292.30 L483.80,288.61 L483.90,285.29 L484.00,281.97 L484.10,278.65 L484.20,275.32 L484.30,271.99 L484.40,268.66 L484.50,265.32 L484.60,261.99 L484.70,258.65 L484.80,255.31 L484.90,251.97 L485.00,248.63 L485.10,245.28 L485.20,241.93 L485.30,238.58 L485.40,235.23 L485.50,231.87 L485.60,228.52 L485.70,225.16 L485.80,221.80 L485.90,218.43 L486.00,215.07 L486.10,211.70 L486.20,208.33 L486.30,204.96 L486.40,201.78 L486.50,199.12 L486.60,196.96 L486.70,195.32 L486.80,194.18 L486.90,193.56 L487.00,193.52 L487.10,194.67 L487.20,196.90 L487.30,200.10 L487.40,204.18 L487.50,209.10 L487.60,214.84 L487.70,221.37 L487.80,222.14 L487.90,215.78 L488.00,210.03 L488.10,204.91 L488.20,200.46 L488.30,196.68 L488.40,193.63 L488.50,191.34 L488.60,189.89 L488.70,189.46 L488.90,190.05 L489.00,190.71 L489.10,191.63 L489.20,192.79 L489.30,194.20 L489.40,195.86 L489.50,197.76 L489.60,199.92 L489.70,202.27 L489.80,204.62 L489.90,206.98 L490.00,209.34 L490.10,211.71 L490.20,214.07 L490.30,216.44 L490.40,218.80 L490.50,221.17 L490.60,223.54 L490.70,225.91 L490.80,228.29 L490.90,230.66 L491.00,233.04 L491.10,235.42 L491.20,237.79 L491.30,240.18 L491.40,242.56 L491.50,244.94 L491.60,247.33 L491.70,249.71 L491.80,252.10 L491.90,254.49 L492.00,256.88 L492.10,259.28 L492.20,261.67 L492.30,264.07 L492.40,266.47 L492.50,268.86 L492.60,271.27 L492.70,273.67 L492.80,276.07 L492.90,278.48 L493.00,280.88 L493.10,283.29 L493.20,285.70 L493.30,288.11 L493.40,289.05 L493.50,286.64 L493.60,284.23 L493.70,281.81 L493.80,279.39 L493.90,276.97 L494.00,274.55 L494.10,272.13 L494.20,269.71 L494.30,267.28 L494.40,264.85 L494.50,262.42 L494.60,259.99 L494.70,257.56 L494.80,255.13 L494.90,252.69 L495.00,250.26 L495.10,247.82 L495.20,245.38 L495.30,242.94 L495.40,240.50 L495.50,238.05 L495.60,235.61 L495.70,233.16 L495.80,230.71 L495.90,228.26 L496.00,225.81 L496.10,223.35 L496.20,220.90 L496.30,218.44 L496.40,215.98 L496.50,213.52 L496.60,211.06 L496.70,208.60 L496.80,206.13 L496.90,203.66 L497.00,201.20 L497.10,198.81 L497.20,196.69 L497.30,194.84 L497.40,193.27 L497.50,191.97 L497.60,190.95 L497.70,190.20 L497.90,189.52 L498.10,191.58 L498.20,194.11 L498.30,197.49 L498.40,201.69 L498.50,206.65 L498.60,212.36 L498.70,218.79 L498.80,224.24 L498.90,216.92 L499.00,210.48 L499.10,204.97 L499.20,200.42 L499.30,196.90 L499.40,194.49 L499.50,193.35 L499.70,194.35 L499.80,195.76 L499.90,197.79 L500.00,200.43 L500.10,203.67 L500.20,207.34 L500.30,211.03 L500.40,214.72 L500.50,218.41 L500.60,222.11 L500.70,225.80 L500.80,229.50 L500.90,233.20 L501.00,236.91 L501.10,240.61 L501.20,244.32 L501.30,248.03 L501.40,251.75 L501.50,255.46 L501.60,259.18 L501.70,262.90 L501.80,266.62 L501.90,270.35 L502.00,274.08 L502.10,277.81 L502.20,281.54 L502.30,285.27 L502.40,289.01 L502.50,292.75 L502.60,290.67 L502.70,286.93 L502.80,283.18 L502.90,279.43 L503.00,275.67 L503.10,271.92 L503.20,268.16 L503.30,264.40 L503.40,260.64 L503.50,256.87 L503.60,253.10 L503.70,249.33 L503.80,245.56 L503.90,241.79 L504.00,238.01 L504.10,234.23 L504.20,230.45 L504.30,226.66 L504.40,222.88 L504.50,219.09 L504.60,215.30 L504.70,211.50 L504.80,207.70 L504.90,203.91 L505.00,200.52 L505.10,197.78 L505.20,195.68 L505.30,194.24 L505.40,193.44 L505.50,193.37 L505.60,194.77 L505.70,197.52 L505.80,201.45 L505.90,206.48 L506.00,212.55 L506.10,219.63 L506.20,222.60 L506.30,215.48 L506.40,209.13 L506.50,203.59 L506.60,198.88 L506.70,195.05 L506.80,192.14 L506.90,190.25 L507.00,189.58 L507.20,190.26 L507.30,191.07 L507.40,192.19 L507.50,193.62 L507.60,195.37 L507.70,197.44 L507.80,199.82 L507.90,202.45 L508.00,205.10 L508.10,207.75 L508.20,210.40 L508.30,213.06 L508.40,215.72 L508.50,218.37 L508.60,221.04 L508.70,223.70 L508.80,226.36 L508.90,229.03 L509.00,231.70 L509.10,234.36 L509.20,237.04 L509.30,239.71 L509.40,242.38 L509.50,245.06 L509.60,247.74 L509.70,250.42 L509.80,253.10 L509.90,255.78 L510.00,258.47 L510.10,261.15 L510.20,263.84 L510.30,266.53 L510.40,269.22 L510.50,271.91 L510.60,274.61 L510.70,277.31 L510.80,280.01 L510.90,282.71 L511.00,285.41 L511.10,288.11 L511.20,289.02 L511.30,286.31 L511.40,283.60 L511.50,280.90 L511.60,278.18 L511.70,275.47 L511.80,272.76 L511.90,270.04 L512.00,267.32 L512.10,264.60 L512.20,261.88 L512.30,259.16 L512.40,256.43 L512.50,253.70 L512.60,250.98 L512.70,248.24 L512.80,245.51 L512.90,242.78 L513.00,240.04 L513.10,237.30 L513.20,234.57 L513.30,231.82 L513.40,229.08 L513.50,226.34 L513.60,223.59 L513.70,220.84 L513.80,218.09 L513.90,215.34 L514.00,212.59 L514.10,209.83 L514.20,207.07 L514.30,204.32 L514.40,201.56 L514.50,198.88 L514.60,196.53 L514.70,194.53 L514.80,192.86 L514.90,191.54 L515.00,190.56 L515.10,189.93 L515.20,189.64 L515.40,191.82 L515.50,194.76 L515.60,198.74 L515.70,203.71 L515.80,209.61 L515.90,216.43 L516.00,224.12 L516.10,217.47 L516.20,210.25 L516.30,204.18 L516.40,199.32 L516.50,195.76 L516.60,193.64 L516.70,193.25 L516.80,193.93 L516.90,195.35 L517.00,197.54 L517.10,200.48 L517.20,204.19 L517.30,208.30 L517.40,212.41 L517.50,216.53 L517.60,220.65 L517.70,224.77 L517.80,228.90 L517.90,233.03 L518.00,237.16 L518.10,241.29 L518.20,245.43 L518.30,249.56 L518.40,253.71 L518.50,257.85 L518.60,262.00 L518.70,266.14 L518.80,270.30 L518.90,274.45 L519.00,278.61 L519.10,282.77 L519.20,286.93 L519.30,291.10 L519.40,291.65 L519.50,287.47 L519.60,283.30 L519.70,279.12 L519.80,274.94 L519.90,270.76 L520.00,266.58 L520.10,262.39 L520.20,258.20 L520.30,254.00 L520.40,249.81 L520.50,245.61 L520.60,241.41 L520.70,237.20 L520.80,233.00 L520.90,228.79 L521.00,224.58 L521.10,220.36 L521.20,216.14 L521.30,211.92 L521.40,207.70 L521.50,203.49 L521.60,199.82 L521.70,196.95 L521.80,194.89 L521.90,193.62 L522.00,193.17 L522.10,194.19 L522.20,196.98 L522.30,201.24 L522.40,206.87 L522.50,213.78 L522.60,221.93 L522.70,219.35 L522.80,211.90 L522.90,205.42 L523.00,199.95 L523.10,195.53 L523.20,192.25 L523.30,190.21 L523.40,189.67 L523.60,190.65 L523.70,191.71 L523.80,193.17 L523.90,195.00 L524.00,197.23 L524.10,199.85 L524.20,202.77 L524.30,205.71 L524.40,208.65 L524.50,211.60 L524.60,214.55 L524.70,217.50 L524.80,220.45 L524.90,223.41 L525.00,226.36 L525.10,229.32 L525.20,232.28 L525.30,235.24 L525.40,238.21 L525.50,241.17 L525.60,244.14 L525.70,247.11 L525.80,250.08 L525.90,253.05 L526.00,256.03 L526.10,259.00 L526.20,261.98 L526.30,264.96 L526.40,267.95 L526.50,270.93 L526.60,273.92 L526.70,276.91 L526.80,279.90 L526.90,282.89 L527.00,285.88 L527.10,288.88 L527.20,288.13 L527.30,285.13 L527.40,282.13 L527.50,279.12 L527.60,276.12 L527.70,273.11 L527.80,270.10 L527.90,267.09 L528.00,264.08 L528.10,261.07 L528.20,258.05 L528.30,255.03 L528.40,252.01 L528.50,248.99 L528.60,245.96 L528.70,242.94 L528.80,239.91 L528.90,236.88 L529.00,233.85 L529.10,230.81 L529.20,227.78 L529.30,224.74 L529.40,221.70 L529.50,218.66 L529.60,215.61 L529.70,212.57 L529.80,209.52 L529.90,206.47 L530.00,203.42 L530.10,200.37 L530.20,197.59 L530.30,195.22 L530.40,193.28 L530.50,191.75 L530.60,190.64 L530.70,189.96 L530.80,189.69 L530.90,190.51 L531.00,192.93 L531.10,196.69 L531.20,201.69 L531.30,207.84 L531.40,215.10 L531.50,223.43 L531.60,217.10 L531.70,209.24 L531.80,202.80 L531.90,197.85 L532.00,194.53 L532.10,193.12 L532.30,194.87 L532.40,197.12 L532.50,200.31 L532.60,204.41 L532.70,208.95 L532.80,213.49 L532.90,218.04 L533.00,222.59 L533.10,227.14 L533.20,231.69 L533.30,236.25 L533.40,240.81 L533.50,245.37 L533.60,249.93 L533.70,254.50 L533.80,259.07 L533.90,263.65 L534.00,268.23 L534.10,272.81 L534.20,277.39 L534.30,281.97 L534.40,286.56 L534.50,291.15 L534.60,290.99 L534.70,286.39 L534.80,281.79 L534.90,277.19 L535.00,272.58 L535.10,267.97 L535.20,263.36 L535.30,258.74 L535.40,254.12 L535.50,249.50 L535.60,244.87 L535.70,240.24 L535.80,235.61 L535.90,230.98 L536.00,226.34 L536.10,221.70 L536.20,217.06 L536.30,212.41 L536.40,207.76 L536.50,203.14 L536.60,199.21 L536.70,196.24 L536.80,194.25 L536.90,193.23 L537.10,195.82 L537.20,200.07 L537.30,206.00 L537.40,213.50 L537.50,222.48 L537.60,217.91 L537.70,209.99 L537.80,203.25 L537.90,197.74 L538.00,193.54 L538.10,190.78 L538.20,189.72 L538.40,190.68 L538.50,191.86 L538.60,193.51 L538.70,195.63 L538.80,198.21 L538.90,201.27 L539.00,204.50 L539.10,207.73 L539.20,210.97 L539.30,214.21 L539.40,217.46 L539.50,220.70 L539.60,223.95 L539.70,227.19 L539.80,230.44 L539.90,233.70 L540.00,236.95 L540.10,240.21 L540.20,243.47 L540.30,246.73 L540.40,249.99 L540.50,253.26 L540.60,256.52 L540.70,259.79 L540.80,263.07 L540.90,266.34 L541.00,269.61 L541.10,272.89 L541.20,276.17 L541.30,279.45 L541.40,282.74 L541.50,286.02 L541.60,289.31 L541.70,287.52 L541.80,284.23 L541.90,280.93 L542.00,277.64 L542.10,274.34 L542.20,271.04 L542.30,267.73 L542.40,264.43 L542.50,261.12 L542.60,257.81 L542.70,254.50 L542.80,251.19 L542.90,247.88 L543.00,244.56 L543.10,241.24 L543.20,237.92 L543.30,234.59 L543.40,231.27 L543.50,227.94 L543.60,224.61 L543.70,221.28 L543.80,217.94 L543.90,214.61 L544.00,211.27 L544.10,207.93 L544.20,204.58 L544.30,201.24 L544.40,198.09 L544.50,195.44 L544.60,193.30 L544.70,191.65 L544.80,190.51 L544.90,189.88 L545.00,189.83 L545.10,191.56 L545.20,195.01 L545.30,199.97 L545.40,206.35 L545.50,214.06 L545.60,223.05 L545.70,216.52 L545.80,208.09 L545.90,201.36 L546.00,196.46 L546.10,193.59 L546.20,193.17 L546.30,194.20 L546.40,196.35 L546.50,199.59 L546.60,203.94 L546.70,208.91 L546.80,213.88 L546.90,218.85 L547.00,223.82 L547.10,228.80 L547.20,233.78 L547.30,238.77 L547.40,243.76 L547.50,248.75 L547.60,253.74 L547.70,258.74 L547.80,263.74 L547.90,268.74 L548.00,273.75 L548.10,278.76 L548.20,283.77 L548.30,288.79 L548.40,292.82 L548.50,287.79 L548.60,282.77 L548.70,277.74 L548.80,272.70 L548.90,267.67 L549.00,262.63 L549.10,257.59 L549.20,252.54 L549.30,247.49 L549.40,242.44 L549.50,237.38 L549.60,232.32 L549.70,227.26 L549.80,222.19 L549.90,217.13 L550.00,212.05 L550.10,206.98 L550.20,202.02 L550.30,198.04 L550.40,195.21 L550.50,193.55 L550.60,193.06 L550.70,194.86 L550.80,199.03 L550.90,205.22 L551.00,213.28 L551.10,223.12 L551.20,216.50 L551.30,208.15 L551.40,201.21 L551.50,195.76 L551.60,191.93 L551.70,189.92 L551.80,189.88 L551.90,190.54 L552.00,191.75 L552.10,193.51 L552.20,195.83 L552.30,198.71 L552.40,202.11 L552.50,205.64 L552.60,209.17 L552.70,212.70 L552.80,216.23 L552.90,219.77 L553.00,223.30 L553.10,226.84 L553.20,230.39 L553.30,233.93 L553.40,237.48 L553.50,241.03 L553.60,244.58 L553.70,248.13 L553.80,251.69 L553.90,255.25 L554.00,258.81 L554.10,262.37 L554.20,265.93 L554.30,269.50 L554.40,273.07 L554.50,276.64 L554.60,280.22 L554.70,283.79 L554.80,287.37 L554.90,289.24 L555.00,285.66 L555.10,282.08 L555.20,278.49 L555.30,274.90 L555.40,271.31 L555.50,267.71 L555.60,264.12 L555.70,260.52 L555.80,256.92 L555.90,253.31 L556.00,249.71 L556.10,246.10 L556.20,242.49 L556.30,238.87 L556.40,235.26 L556.50,231.64 L556.60,228.02 L556.70,224.40 L556.80,220.78 L556.90,217.15 L557.00,213.52 L557.10,209.89 L557.20,206.25 L557.30,202.62 L557.40,199.06 L557.50,196.04 L557.60,193.60 L557.70,191.76 L557.80,190.52 L557.90,189.87 L558.00,190.06 L558.10,192.43 L558.20,196.73 L558.30,202.77 L558.40,210.43 L558.50,219.62 L558.70,209.50 L558.80,201.92 L558.90,196.48 L559.00,193.44 L559.10,193.22 L559.20,194.58 L559.30,197.25 L559.40,201.22 L559.50,206.39 L559.60,211.78 L559.70,217.18 L559.80,222.58 L559.90,227.98 L560.00,233.39 L560.10,238.80 L560.20,244.22 L560.30,249.63 L560.40,255.05 L560.50,260.48 L560.60,265.91 L560.70,271.34 L560.80,276.77 L560.90,282.21 L561.00,287.65 L561.10,293.10 L561.20,288.00 L561.30,282.55 L561.40,277.09 L561.50,271.63 L561.60,266.17 L561.70,260.70 L561.80,255.23 L561.90,249.76 L562.00,244.28 L562.10,238.80 L562.20,233.32 L562.30,227.83 L562.40,222.34 L562.50,216.84 L562.60,211.34 L562.70,205.84 L562.80,200.66 L562.90,196.78 L563.00,194.25 L563.10,193.09 L563.20,193.87 L563.30,197.61 L563.40,203.81 L563.50,212.24 L563.60,222.76 L563.70,215.99 L563.80,207.10 L563.90,199.88 L564.00,194.43 L564.10,190.94 L564.20,189.78 L564.40,191.27 L564.50,192.98 L564.60,195.35 L564.70,198.37 L564.80,202.02 L564.90,205.84 L565.00,209.66 L565.10,213.49 L565.20,217.31 L565.30,221.14 L565.40,224.97 L565.50,228.80 L565.60,232.64 L565.70,236.47 L565.80,240.31 L565.90,244.16 L566.00,248.00 L566.10,251.85 L566.20,255.70 L566.30,259.55 L566.40,263.41 L566.50,267.26 L566.60,271.12 L566.70,274.99 L566.80,278.85 L566.90,282.72 L567.00,286.59 L567.10,289.79 L567.20,285.91 L567.30,282.04 L567.40,278.16 L567.50,274.27 L567.60,270.39 L567.70,266.50 L567.80,262.61 L567.90,258.72 L568.00,254.83 L568.10,250.93 L568.20,247.03 L568.30,243.13 L568.40,239.23 L568.50,235.32 L568.60,231.41 L568.70,227.50 L568.80,223.58 L568.90,219.67 L569.00,215.75 L569.10,211.83 L569.20,207.90 L569.30,203.97 L569.40,200.06 L569.50,196.63 L569.60,193.90 L569.70,191.85 L569.80,190.51 L569.90,189.85 L570.10,193.44 L570.20,198.68 L570.30,205.88 L570.40,214.93 L570.50,223.50 L570.60,212.40 L570.70,203.59 L570.80,197.22 L570.90,193.58 L571.00,193.18 L571.10,194.70 L571.20,197.73 L571.30,202.28 L571.40,208.01 L571.50,213.83 L571.60,219.65 L571.70,225.48 L571.80,231.31 L571.90,237.15 L572.00,242.99 L572.10,248.83 L572.20,254.68 L572.30,260.53 L572.40,266.38 L572.50,272.24 L572.60,278.10 L572.70,283.97 L572.80,289.84 L572.90,290.79 L573.00,284.91 L573.10,279.03 L573.20,273.14 L573.30,267.26 L573.40,261.36 L573.50,255.47 L573.60,249.57 L573.70,243.66 L573.80,237.76 L573.90,231.85 L574.00,225.93 L574.10,220.01 L574.20,214.09 L574.30,208.16 L574.40,202.31 L574.50,197.68 L574.60,194.62 L574.70,193.14 L574.80,193.76 L574.90,197.78 L575.00,204.64 L575.10,214.07 L575.20,223.47 L575.30,212.72 L575.40,203.84 L575.50,196.93 L575.60,192.18 L575.70,189.88 L575.80,190.04 L575.90,191.03 L576.00,192.76 L576.10,195.26 L576.20,198.51 L576.30,202.47 L576.40,206.58 L576.50,210.69 L576.60,214.81 L576.70,218.92 L576.80,223.05 L576.90,227.17 L577.00,231.29 L577.10,235.42 L577.20,239.55 L577.30,243.69 L577.40,247.82 L577.50,251.96" stroke="#176217" stroke-width="1.6"/>
</g>
<rect x="62.7" y="60.1" width="525.9" height="317.5" fill="none" stroke="#a6a6a6" stroke-width="1"/>
<path d="M62.70,368.25 h3.5 M62.70,358.82 h2.2 M62.70,349.39 h2.2 M62.70,339.96 h2.2 M62.70,330.53 h2.2 M62.70,321.10 h3.5 M62.70,311.67 h2.2 M62.70,302.24 h2.2 M62.70,292.81 h2.2 M62.70,283.38 h2.2 M62.70,273.95 h3.5 M62.70,264.52 h2.2 M62.70,255.09 h2.2 M62.70,245.66 h2.2 M62.70,236.23 h2.2 M62.70,226.80 h3.5 M62.70,217.37 h2.2 M62.70,207.94 h2.2 M62.70,198.51 h2.2 M62.70,189.08 h2.2 M62.70,179.65 h3.5 M62.70,170.22 h2.2 M62.70,160.79 h2.2 M62.70,151.36 h2.2 M62.70,141.93 h2.2 M62.70,132.50 h3.5 M62.70,123.07 h2.2 M62.70,113.64 h2.2 M62.70,104.21 h2.2 M62.70,94.78 h2.2 M62.70,85.35 h3.5 M62.70,75.92 h2.2 M62.70,66.49 h2.2  M90.91,377.60 v-2.3 M122.67,377.60 v-2.3 M145.21,377.60 v-2.3 M162.69,377.60 v-4.2 M176.98,377.60 v-2.3 M189.06,377.60 v-2.3 M199.52,377.60 v-2.3 M208.75,377.60 v-2.3 M217.00,377.60 v-4.2 M271.31,377.60 v-2.3 M303.07,377.60 v-2.3 M325.61,377.60 v-2.3 M343.09,377.60 v-4.2 M357.38,377.60 v-2.3 M369.46,377.60 v-2.3 M379.92,377.60 v-2.3 M389.15,377.60 v-2.3 M397.40,377.60 v-4.2 M451.71,377.60 v-2.3 M483.47,377.60 v-2.3 M506.01,377.60 v-2.3 M523.49,377.60 v-4.2 M537.78,377.60 v-2.3 M549.86,377.60 v-2.3 M560.32,377.60 v-2.3 M569.55,377.60 v-2.3 M577.80,377.60 v-4.2 " stroke="#787878" stroke-width="0.9" fill="none"/>
<g fill="none">
<path d="M616.3,163.5 h15.4" stroke="#2a4fd8" stroke-width="1.2"/>
<path d="M616.3,197.9 h15.4" stroke="#b48ee0" stroke-width="2"/>
<path d="M616.3,232.2 h15.4" stroke="#e80000" stroke-width="1.7"/>
<path d="M616.3,266.5 h15.4" stroke="#3a8a3a" stroke-width="1.1"/>
</g>
</svg>
<div class="t tick" style="right:756.7px;top:75.7px;">3.5</div>
<div class="t tick" style="right:756.7px;top:122.9px;">3.0</div>
<div class="t tick" style="right:756.7px;top:170.1px;">2.5</div>
<div class="t tick" style="right:756.7px;top:217.3px;">2.0</div>
<div class="t tick" style="right:756.7px;top:264.5px;"><svg width="10.57" height="13.6" viewBox="0 0 10.57 13.6" style="position:static;display:inline-block;vertical-align:baseline;overflow:visible"><path d="M7.5,0.1 L6.1,0.1 Q4.9,2.3 1.7,3.6 L1.7,5.4 Q4.3,4.5 5.6,3.0 L5.6,13.6 L7.5,13.6 Z" fill="#000"/></svg>.5</div>
<div class="t tick" style="right:756.7px;top:311.7px;"><svg width="10.57" height="13.6" viewBox="0 0 10.57 13.6" style="position:static;display:inline-block;vertical-align:baseline;overflow:visible"><path d="M7.5,0.1 L6.1,0.1 Q4.9,2.3 1.7,3.6 L1.7,5.4 Q4.3,4.5 5.6,3.0 L5.6,13.6 L7.5,13.6 Z" fill="#000"/></svg>.0</div>
<div class="t tick" style="right:756.7px;top:358.9px;">0.5</div>
<div class="t tick" style="left:162.6px;top:381.4px;transform:translateX(-50%);">0.005</div>
<div class="t tick" style="left:216.7px;top:381.4px;transform:translateX(-50%);">0.0<svg width="10.57" height="13.6" viewBox="0 0 10.57 13.6" style="position:static;display:inline-block;vertical-align:baseline;overflow:visible"><path d="M7.5,0.1 L6.1,0.1 Q4.9,2.3 1.7,3.6 L1.7,5.4 Q4.3,4.5 5.6,3.0 L5.6,13.6 L7.5,13.6 Z" fill="#000"/></svg>0</div>
<div class="t tick" style="left:342.4px;top:381.4px;transform:translateX(-50%);">0.050</div>
<div class="t tick" style="left:396.7px;top:381.4px;transform:translateX(-50%);">0.<svg width="10.57" height="13.6" viewBox="0 0 10.57 13.6" style="position:static;display:inline-block;vertical-align:baseline;overflow:visible"><path d="M7.5,0.1 L6.1,0.1 Q4.9,2.3 1.7,3.6 L1.7,5.4 Q4.3,4.5 5.6,3.0 L5.6,13.6 L7.5,13.6 Z" fill="#000"/></svg>00</div>
<div class="t tick" style="left:523.2px;top:381.4px;transform:translateX(-50%);">0.500</div>
<div class="t tick" style="left:578.7px;top:381.4px;transform:translateX(-50%);"><svg width="10.57" height="13.6" viewBox="0 0 10.57 13.6" style="position:static;display:inline-block;vertical-align:baseline;overflow:visible"><path d="M7.5,0.1 L6.1,0.1 Q4.9,2.3 1.7,3.6 L1.7,5.4 Q4.3,4.5 5.6,3.0 L5.6,13.6 L7.5,13.6 Z" fill="#000"/></svg></div>
<div class="t ser" style="left:324.6px;top:2.3px;font-size:27px;font-weight:bold;-webkit-text-stroke:0.45px #fff;transform:translateX(-50%) scaleX(1.083);letter-spacing:0.3px;">Cosine hyperbolic bounce</div>
<div class="t ser" style="left:73.3px;top:35.1px;font-size:19px;font-style:italic;transform:translateX(-50%);">a<span style="font-size:14.5px;position:relative;top:2.9px;letter-spacing:-0.55px;margin-left:0.3px;">bounce</span></div>
<div class="t ser" style="left:280.6px;top:35.1px;font-size:19px;font-style:italic;transform:translateX(-50%);">a<span style="font-size:14.5px;position:relative;top:2.9px;letter-spacing:-0.40px;margin-left:0.3px;">boundary</span></div>
<div class="t ser" style="left:577.8px;top:35.1px;font-size:19px;font-style:italic;transform:translateX(-50%);">a<span style="font-size:14.5px;position:relative;top:2.9px;letter-spacing:0.30px;margin-left:0.3px;">present</span></div>
<div class="t ser" style="left:325.7px;top:407.1px;font-size:24px;font-style:italic;transform:translateX(-50%);">a</div>
<div class="t ser" style="left:11.5px;top:218.7px;font-size:22.5px;transform:translate(-50%,-50%) rotate(-90deg);"><i>C</i><span style="font-size:15px;position:relative;top:4px;">1</span>(<i>a</i>)</div>
<div class="t ser" style="left:642.3px;top:156.3px;font-size:15.3px;font-weight:bold;-webkit-text-stroke:0.3px #fff;transform-origin:0 0;transform:scaleX(1.1286);">Pre Bounce Boundary</div>
<div class="t ser" style="left:642.3px;top:190.7px;font-size:15.3px;font-weight:bold;-webkit-text-stroke:0.3px #fff;transform-origin:0 0;transform:scaleX(1.1430);">Pre Point of bounce</div>
<div class="t ser" style="left:642.3px;top:225.0px;font-size:15.3px;font-weight:bold;-webkit-text-stroke:0.3px #fff;transform-origin:0 0;transform:scaleX(1.1487);">Post Point of bounce</div>
<div class="t ser" style="left:642.3px;top:259.3px;font-size:15.3px;font-weight:bold;-webkit-text-stroke:0.3px #fff;transform-origin:0 0;transform:scaleX(1.1270);">Post Bounce Boundary</div>
</body></html>
